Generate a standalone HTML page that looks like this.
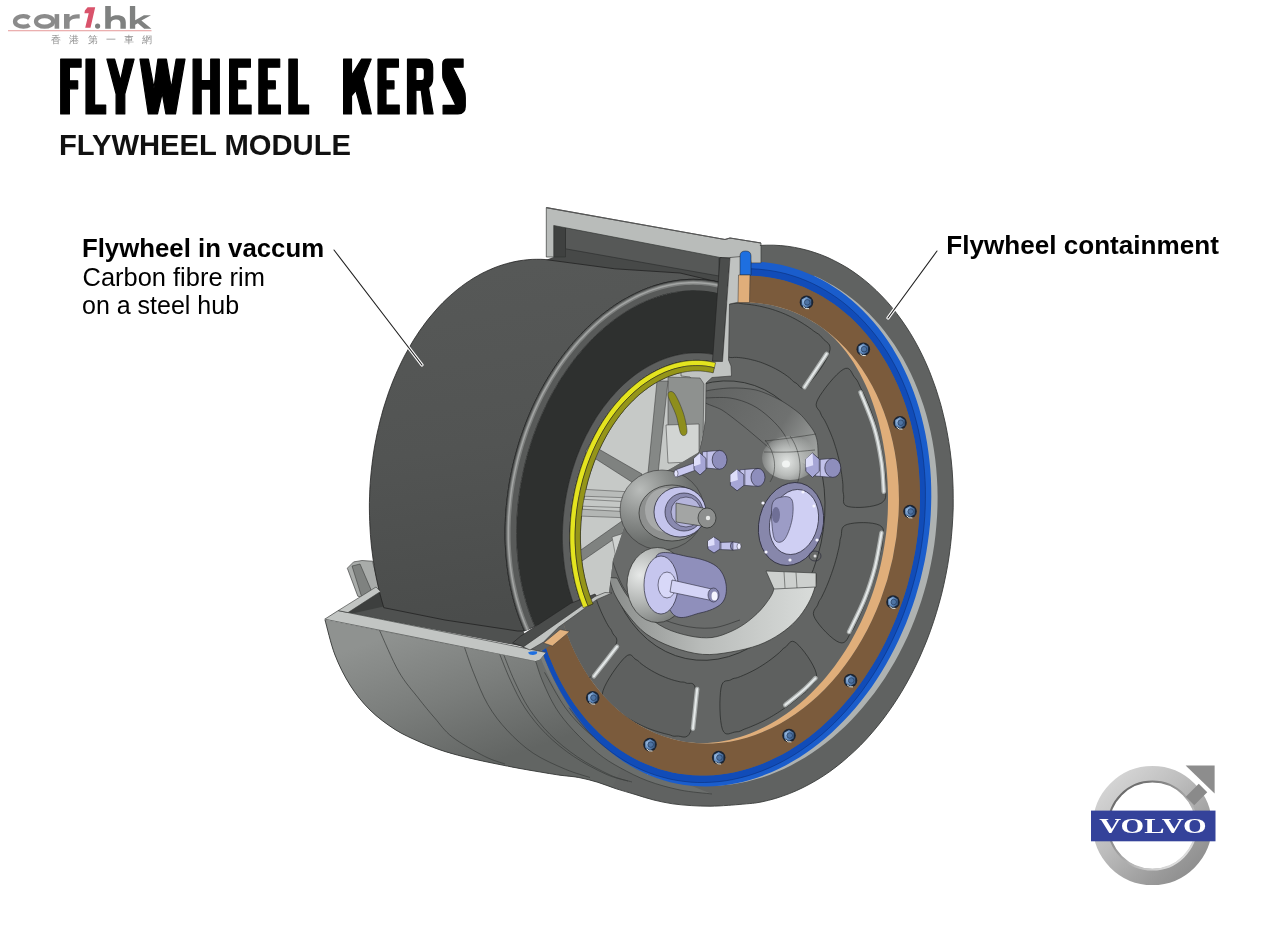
<!DOCTYPE html>
<html><head><meta charset="utf-8">
<style>
html,body{margin:0;padding:0;background:#fff;width:1280px;height:928px;overflow:hidden}
svg{position:absolute;left:0;top:0;display:block}
text{font-family:"Liberation Sans",sans-serif}
svg{will-change:transform}
</style></head><body>
<svg width="1280" height="928" viewBox="0 0 1280 928">
<defs>
<linearGradient id="ringG" gradientUnits="userSpaceOnUse" x1="1100" y1="770" x2="1205" y2="885">
<stop offset="0" stop-color="#dcdcdc"/><stop offset="0.4" stop-color="#bdbdbd"/><stop offset="0.75" stop-color="#9a9a9a"/><stop offset="1" stop-color="#858585"/>
</linearGradient>
<linearGradient id="ringIn" gradientUnits="userSpaceOnUse" x1="1115" y1="785" x2="1190" y2="866">
<stop offset="0" stop-color="#5e5e5e"/><stop offset="0.45" stop-color="#9c9c9c"/><stop offset="1" stop-color="#ececec"/>
</linearGradient>
</defs>
<rect width="1280" height="928" fill="#fff"/>

<!-- car1.hk logo -->
<g id="logo">
<path d="M29.4,17.9 A8.2,5.3 0 1 0 29.4,24.9" fill="none" stroke="#8b8b8b" stroke-width="4.3"/>
<ellipse cx="44.6" cy="21.4" rx="8.6" ry="5.3" fill="none" stroke="#8b8b8b" stroke-width="4.2"/>
<rect x="54.6" y="14.1" width="4.6" height="14.6" fill="#8b8b8b"/>
<path d="M64,28.7V14.1H69.6V17.2C71.5,14.8 74.5,14 79.7,14.2V18.6C73.5,18.4 69.6,19.6 69.6,23V28.7Z" fill="#8b8b8b"/>
<path d="M84.9,10.6L87.6,7.2H95.2L90.5,27.8H85.2L88.7,13.2H84.4Z" fill="#d9536b"/>
<circle cx="97.6" cy="26.1" r="2.6" fill="#7d7f7e"/>
<path d="M105.2,5.9H110.8V17.2C112.5,15.8 114.5,15.2 117,15.2C122.8,15.2 125.8,17.6 125.8,22.5V28.7H120.4V23C120.4,20.6 119,19.4 116.6,19.4C113.2,19.4 110.8,20.8 110.8,23.5V28.7H105.2Z" fill="#7f8180"/>
<path d="M129.9,5.9H135.2V20.3L143.9,15.2H151L141.4,20.6L151.4,28.7H144.2L137.8,23.2L135.2,24.7V28.7H129.9Z" fill="#7f8180"/>
<rect x="8" y="30" width="143.5" height="1.3" fill="#ebb0b0"/>
<g font-size="9.6" fill="#8f8f8f" font-family="Liberation Sans, sans-serif">
<text x="51.2" y="43">香</text><text x="69.4" y="43">港</text><text x="88" y="43">第</text><text x="105.8" y="43">一</text><text x="123.8" y="43">車</text><text x="141.9" y="43">網</text>
</g>
</g>

<!-- title -->
<g fill="#000" stroke="#000" stroke-width="1.2" stroke-linejoin="round">
<path d="M60.7,59.1H81.1V67.2H69.4V80.8H77.7V88.8H69.4V113.9H60.7Z"/>
<path d="M86,59.1H94.6V105H105.7V113.9H86Z"/>
<path d="M106.9,59.1H114.6L120.6,80.5L125.2,59.1H134.1L124.8,94V113.9H116.1V94Z"/>
<path d="M140,59.1H148.4L154,88L157.9,59.1H166.4L171.3,88L176.2,59.1H185L175.5,113.9H165.9L162.2,93L157.5,113.9H148.3Z"/>
<path d="M193.1,59.1H201.2V80.5H210.7V59.1H219.3V113.9H210.7V89.1H201.2V113.9H193.1Z"/>
<path d="M229.6,59.1H250.4V67.2H237.5V80.8H246V88.8H237.5V105H251.1V113.9H229.6Z"/>
<path d="M258.9,59.1H279.7V67.2H267.2V80.8H275.3V88.8H267.2V105H280.4V113.9H258.9Z"/>
<path d="M288.9,59.1H297.3V105H308.6V113.9H288.9Z"/>
<path d="M343.6,59.1H351.5V75.5L361.6,59.1H371.2L363.3,79.1L371.3,113.9H362.2L355.9,90.5L351.5,96V113.9H343.6Z"/>
<path d="M378,59.1H398.4V67.2H386V80.8H394V88.8H386V105H399.2V113.9H378Z"/>
<path d="M407.5,59.1H426.5C431,59.1 432.7,63 432.7,68V78C432.7,83 431,86 428.5,87.5L433.1,113.9H424.3L421.2,90.2H415.9V113.9H407.5Z M415.9,67.4V80.6H421.5C423.6,80.6 424.4,79.5 424.4,77.5V70.5C424.4,68.5 423.6,67.4 421.5,67.4Z" fill-rule="evenodd"/>
<path d="M463.1,59.1V67.2H452.6L463.8,89.5C465.3,92.5 465.3,94 465.3,98V106C465.3,111 462.5,113.9 458,113.9H443.1V105.4H455.9L443.6,80C442.7,78 442.7,76.5 442.7,74V64C442.7,61 444.5,59.1 447.5,59.1Z"/>
</g>
<text x="59" y="155.3" font-size="29.3" font-weight="bold" fill="#111" textLength="292" lengthAdjust="spacingAndGlyphs">FLYWHEEL MODULE</text>

<!-- labels -->
<text x="81.9" y="256.6" font-size="25.5" font-weight="bold" fill="#000" textLength="242.2" lengthAdjust="spacingAndGlyphs">Flywheel in vaccum</text>
<text x="82.6" y="285.7" font-size="25" fill="#000" textLength="182.3" lengthAdjust="spacingAndGlyphs">Carbon fibre rim</text>
<text x="82" y="314.4" font-size="25" fill="#000">on a steel hub</text>
<text x="946.2" y="254" font-size="25.5" font-weight="bold" fill="#000" textLength="272.7" lengthAdjust="spacingAndGlyphs">Flywheel containment</text>

<!-- MACHINE -->
<g id="machine">
<defs>
<linearGradient id="shellG" gradientUnits="userSpaceOnUse" x1="420" y1="625" x2="470" y2="770">
<stop offset="0" stop-color="#8f9290"/><stop offset="0.5" stop-color="#7a7d7b"/><stop offset="1" stop-color="#626563"/></linearGradient>
<linearGradient id="rotorG" gradientUnits="userSpaceOnUse" x1="420" y1="280" x2="470" y2="620">
<stop offset="0" stop-color="#565857"/><stop offset="0.5" stop-color="#525453"/><stop offset="1" stop-color="#4a4c4b"/></linearGradient>
<linearGradient id="rimG" gradientUnits="userSpaceOnUse" x1="540" y1="700" x2="760" y2="800">
<stop offset="0" stop-color="#737674"/><stop offset="1" stop-color="#5f6160"/></linearGradient>
<radialGradient id="hubLow" gradientUnits="userSpaceOnUse" cx="720" cy="640" r="130">
<stop offset="0" stop-color="#d4d7d5"/><stop offset="0.6" stop-color="#b5b8b6"/><stop offset="1" stop-color="#8a8d8b"/></radialGradient>
<radialGradient id="hubTop" gradientUnits="userSpaceOnUse" cx="760" cy="470" r="90">
<stop offset="0" stop-color="#8c8f8d"/><stop offset="1" stop-color="#5f6160"/></radialGradient>
<linearGradient id="lav" x1="0" y1="0" x2="1" y2="1"><stop offset="0" stop-color="#e6e6fa"/><stop offset="1" stop-color="#9c9cc8"/></linearGradient>
<radialGradient id="boltG" cx="0.3" cy="0.4" r="0.75"><stop offset="0" stop-color="#a9c9ec"/><stop offset="0.55" stop-color="#5f88bb"/><stop offset="1" stop-color="#34547e"/></radialGradient>

<clipPath id="innerClip"><ellipse cx="725.5" cy="523" rx="170.9" ry="222.5" transform="rotate(12 725.5 523)"/></clipPath>
<clipPath id="cutClip"><path d="M290,150 L770,150 L766,236 L762,263.5 L750.5,263.5 L741,256.5 L739.5,302 L729.5,304 L728.5,360 L731,376 L706,378 L705.5,420 L699,452 L672,468 L650,480 L633,500 L623,530 L613,560 L609,593 L546,652.5 L540,660 L535,661.5 L325,620.5 L290,620Z"/></clipPath>
</defs>
<path d="M759.9,245.4 L766.8,245.2 L773.8,245.2 L780.8,245.6 L787.7,246.3 L794.5,247.4 L801.3,248.8 L808.1,250.5 L814.8,252.6 L821.4,254.9 L827.9,257.6 L834.3,260.7 L840.6,264 L846.9,267.6 L853,271.6 L858.9,275.8 L864.8,280.4 L870.5,285.2 L876.1,290.4 L881.5,295.8 L886.8,301.4 L891.9,307.4 L896.8,313.6 L901.6,320.1 L906.2,326.8 L910.6,333.7 L914.8,340.9 L918.8,348.3 L922.6,355.9 L926.2,363.7 L929.6,371.7 L932.7,379.9 L935.7,388.2 L938.4,396.7 L941,405.4 L943.2,414.2 L945.3,423.1 L947.1,432.2 L948.7,441.4 L950.1,450.7 L951.2,460 L952.1,469.5 L952.7,479 L953.1,488.5 L953.2,498.2 L953.2,507.8 L952.8,517.5 L952.2,527.1 L951.4,536.8 L950.4,546.4 L949.1,556.1 L947.6,565.7 L945.8,575.2 L943.8,584.7 L941.6,594.1 L939.1,603.4 L936.4,612.7 L933.5,621.8 L930.4,630.8 L927.1,639.7 L923.5,648.4 L919.8,657 L915.8,665.5 L911.7,673.8 L907.3,681.9 L902.8,689.8 L898.1,697.5 L893.2,705 L888.1,712.3 L882.9,719.4 L877.5,726.2 L872,732.8 L866.3,739.2 L860.5,745.3 L854.5,751.1 L848.4,756.6 L842.3,761.9 L836,766.9 L829.6,771.7 L823.1,776.1 L816.5,780.2 L809.8,784 L803.1,787.5 L796.3,790.7 L789.4,793.6 L782.5,796.1 L775.6,798.4 L768.6,800.3 L761.7,801.9 L754.7,803.1 L754.7,803.1 C750.3,803.5 736.2,804.8 728.8,805.3 C721.3,805.8 716.2,806.2 710,806.2 C703.8,806.2 697.5,806 691.2,805.6 C685,805.2 678.8,804.7 672.5,803.8 C666.2,802.8 660,801.6 653.8,800 C647.5,798.4 641.2,796.3 635,794.4 C628.8,792.5 622.5,790.8 616.2,788.8 C610,786.7 603.8,784.1 597.5,782.2 C591.2,780.3 585,778.7 578.8,777.5 C572.5,776.3 565.6,776 560,775.2 C554.4,774.4 551.7,773.9 545,772.8 C538.3,771.7 528.3,770 520,768.5 C511.7,767 503.3,765.3 495,763.6 C486.7,761.9 478.3,760.2 470,758.2 C461.7,756.2 453.3,754.2 445,751.5 C436.7,748.8 428.3,745.7 420,742 C411.7,738.3 403.3,734.8 395,729.5 C386.7,724.2 377.5,717.4 370,710 C362.5,702.6 355.8,694.2 350,685 C344.2,675.8 339.2,665.8 335,655 C330.8,644.2 326.7,625.8 325,620 L535.5,661.5 L522,648 L600,588 L700,450 L741,256Z" fill="#606261" />
<path d="M535.5,661.5 L541.1,649.8 L545.3,660.7 L549.8,671.4 L554.8,681.7 L560.1,691.7 L565.8,701.3 L571.9,710.6 L578.4,719.4 L585.2,727.9 L592.4,735.9 L599.9,743.4 L607.8,750.4 L616,756.8 L624.5,762.7 L612,787.2 L616.2,788.8 C613.1,787.7 603.8,784.1 597.5,782.2 C591.2,780.3 585,778.7 578.8,777.5 C572.5,776.3 565.6,776 560,775.2 C554.4,774.4 551.7,773.9 545,772.8 C538.3,771.7 528.3,770 520,768.5 C511.7,767 503.3,765.3 495,763.6 C486.7,761.9 478.3,760.2 470,758.2 C461.7,756.2 453.3,754.2 445,751.5 C436.7,748.8 428.3,745.7 420,742 C411.7,738.3 403.3,734.8 395,729.5 C386.7,724.2 377.5,717.4 370,710 C362.5,702.6 355.8,694.2 350,685 C344.2,675.8 339.2,665.8 335,655 C330.8,644.2 326.7,625.8 325,620Z" fill="url(#shellG)" />
<path d="M535.6,661 C536.8,664.5 539.5,674.2 542.9,682 C546.3,689.8 550.7,699.9 555.8,708 C560.9,716.1 566.6,723 573.6,730.5 C580.6,738 590.1,747 597.8,753.2 C605.5,759.4 611.6,763.1 620,767.7 C628.4,772.3 638,777.3 648,781 C658,784.7 669.3,787.8 680,790 C690.7,792.2 706.7,793.3 712,794 L677.9292026158525,780.5785817726317 L668.3204422269619,778.6739189517389 L658.8471865133367,776.1633575770495 L649.5318852890222,773.0528472014643 L640.3966140459695,769.3497591428942 L631.4630216393197,765.062869015639 L622.7522789837346,760.2023359338511 L614.2850288823564,754.779678436367 L606.0813371072909,748.8077471899617 L598.1606448475442,742.3006945357121 L590.5417226371034,735.2739409506419 L583.2426258723408,727.7441385041234 L576.2806520241597,719.7291313956408 L569.6722996462786,711.2479136674323 L563.4332292767967,702.320584192222 L557.5782263256978,692.9682990427158 L552.1211660362413,683.2132213557326 L547.0749806032751,673.0784688097862 L542.4516285263933,662.588058840585 L538.2620662705672,651.7668517242772Z" fill="#6b6e6c" />
<path d="M379.4,630 C382.6,637 392.3,660.4 398.8,671.7 C405.3,683 412.2,690.2 418.2,697.9 C424.2,705.6 429,711.5 434.7,718 C440.4,724.5 444,730.6 452.3,737 C460.6,743.4 475.9,751.9 484.7,756.4 C493.5,760.9 501.6,762.7 505,764" fill="none" stroke="#3a3c3b" stroke-width="0.7" />
<path d="M464.5,647.3 C466,651.5 469.5,662.7 473.4,672.3 C477.3,681.9 482.2,695 487.9,704.7 C493.5,714.4 499.8,722.4 507.3,730.5 C514.9,738.6 523.5,746.7 533.2,753.2 C542.9,759.7 556,765.2 565.5,769.3 C575,773.3 585.9,776.1 590,777.5" fill="none" stroke="#3a3c3b" stroke-width="0.7" />
<path d="M499.2,652.9 C501.1,657.5 506.2,671.2 510.5,680.4 C514.8,689.6 519.1,699.1 525,708 C530.9,716.9 537.9,725.7 546,733.8 C554.1,741.9 563.6,749.7 573.6,756.4 C583.6,763.1 596.9,770.1 606,774.2 C615.1,778.3 624.3,779.9 628,781" fill="none" stroke="#3a3c3b" stroke-width="0.7" />
<path d="M503.3,653.7 C505.2,658.2 510.2,671.9 514.5,681 C518.8,690.1 523.1,699.7 529,708.6 C534.9,717.5 541.9,726.3 550,734.4 C558.1,742.5 567.6,750.2 577.6,757 C587.6,763.8 600.9,770.8 610,775 C619.1,779.2 628.3,780.8 632,782" fill="none" stroke="#3a3c3b" stroke-width="0.7" />
<path d="M535.6,661 C536.8,664.5 539.5,674.2 542.9,682 C546.3,689.8 550.7,699.9 555.8,708 C560.9,716.1 566.6,723 573.6,730.5 C580.6,738 590.1,747 597.8,753.2 C605.5,759.4 611.6,763.1 620,767.7 C628.4,772.3 638,777.3 648,781 C658,784.7 669.3,787.8 680,790 C690.7,792.2 706.7,793.3 712,794" fill="none" stroke="#3a3c3b" stroke-width="0.7" />
<path d="M544.5,672.3 C548,678.2 558,697.8 565.5,708 C573,718.2 580.7,726.3 589.8,733.8 C598.9,741.3 609.6,747.5 620,753.2 C630.4,758.9 640.3,763.7 652,768 C663.7,772.3 677,776.3 690,779 C703,781.7 723.3,783.2 730,784" fill="none" stroke="#3a3c3b" stroke-width="0.7" />
<path d="M814.1,275.7 L820.7,278.8 L827.2,282.2 L833.6,285.8 L839.9,289.8 L846,294 L852,298.5 L857.9,303.3 L863.6,308.4 L869.2,313.8 L874.6,319.4 L879.8,325.3 L884.8,331.5 L889.6,337.9 L894.3,344.5 L898.7,351.4 L903,358.6 L907,365.9 L910.8,373.5 L914.3,381.3 L917.6,389.3 L920.7,397.5 L923.6,405.8 L926.2,414.3 L928.5,423 L930.6,431.8 L932.4,440.8 L933.9,449.8 L935.2,459 L936.2,468.3 L936.9,477.6 L937.4,487.1 L937.6,496.6 L937.5,506.1 L937.1,515.7 L936.4,525.3 L935.5,534.8 L934.3,544.4 L932.8,554 L931,563.5 L929,573 L926.7,582.4 L924.1,591.7 L921.3,600.9 L918.2,610.1 L914.9,619.1 L911.3,628 L907.5,636.7 L903.4,645.3 L899.1,653.7 L894.6,662 L889.8,670 L884.9,677.9 L879.7,685.5 L874.4,692.9 L868.8,700.1 L863.1,707.1 L857.2,713.8 L851.2,720.2 L845,726.4 L838.6,732.3 L832.1,737.9 L825.5,743.2 L818.8,748.3 L812,753 L805.1,757.4 L798,761.5 L790.9,765.4 L783.8,768.9 L776.6,772 L769.3,774.9 L762,777.4 L754.6,779.6 L747.3,781.5 L739.9,783 L732.5,784.2 L725.2,785.1 L717.8,785.7 L710.5,786 L703.2,785.9 L695.9,785.5 L688.7,784.8 L681.6,783.7 L674.5,782.4 L667.5,780.8 L660.5,778.8 L653.7,776.6 L646.9,774.2 L647.1,773.2 L653.9,775.7 L660.8,777.8 L667.7,779.6 L674.8,781 L681.8,782.2 L689,783 L696.2,783.5 L703.4,783.7 L710.6,783.5 L717.9,783 L725.2,782.2 L732.5,781 L739.7,779.6 L747,777.8 L754.2,775.6 L761.4,773.2 L768.5,770.5 L775.6,767.4 L782.6,764 L789.6,760.3 L796.5,756.4 L803.2,752.1 L809.9,747.5 L816.5,742.7 L823,737.6 L829.3,732.2 L835.5,726.5 L841.6,720.6 L847.5,714.5 L853.3,708.1 L858.9,701.4 L864.3,694.6 L869.6,687.5 L874.7,680.2 L879.6,672.7 L884.3,665.1 L888.8,657.2 L893.1,649.2 L897.2,641 L901,632.7 L904.7,624.3 L908.1,615.7 L911.3,607 L914.3,598.1 L917,589.2 L919.5,580.2 L921.7,571.2 L923.7,562.1 L925.4,552.9 L926.9,543.7 L928.1,534.4 L929.1,525.2 L929.8,515.9 L930.3,506.7 L930.5,497.5 L930.4,488.3 L930.1,479.1 L929.5,470 L928.7,461 L927.6,452 L926.3,443.2 L924.7,434.4 L922.8,425.8 L920.8,417.2 L918.4,408.9 L915.8,400.6 L913,392.5 L909.9,384.6 L906.7,376.8 L903.1,369.3 L899.4,361.9 L895.4,354.7 L891.2,347.8 L886.9,341 L882.3,334.5 L877.5,328.2 L872.5,322.2 L867.3,316.4 L862,310.9 L856.5,305.7 L850.8,300.7 L845,296 L839,291.6 L832.8,287.5 L826.6,283.7 L820.2,280.2 L813.7,276.9Z" fill="#aeb2b1" />
<path d="M745.1,261.4 L752.3,261.4 L759.5,261.8 L766.7,262.5 L773.7,263.5 L780.8,264.8 L787.7,266.5 L794.6,268.5 L801.4,270.8 L808.1,273.4 L814.7,276.3 L821.2,279.6 L827.6,283.1 L833.8,286.9 L839.9,291.1 L845.9,295.5 L851.7,300.2 L857.3,305.2 L862.8,310.4 L868.1,315.9 L873.3,321.7 L878.3,327.7 L883,334 L887.6,340.5 L892,347.2 L896.1,354.2 L900.1,361.3 L903.8,368.7 L907.3,376.2 L910.6,384 L913.7,391.9 L916.5,400 L919.1,408.2 L921.4,416.5 L923.5,425 L925.4,433.7 L927,442.4 L928.3,451.2 L929.4,460.2 L930.3,469.2 L930.9,478.2 L931.2,487.3 L931.3,496.5 L931.1,505.7 L930.7,514.9 L930,524.2 L929,533.4 L927.8,542.6 L926.4,551.8 L924.7,561 L922.7,570.1 L920.6,579.1 L918.1,588.1 L915.5,597 L912.6,605.8 L909.4,614.5 L906.1,623.2 L902.5,631.6 L898.7,640 L894.7,648.2 L890.5,656.3 L886.1,664.2 L881.5,671.9 L876.7,679.5 L871.7,686.9 L866.5,694 L861.1,701 L855.6,707.7 L849.9,714.3 L844,720.6 L838,726.6 L831.9,732.4 L825.6,738 L819.2,743.2 L812.7,748.2 L806,753 L799.3,757.4 L792.4,761.6 L785.5,765.4 L778.4,769 L771.4,772.2 L764.2,775.1 L757,777.7 L749.8,780 L742.5,781.9 L735.2,783.5 L727.9,784.8 L720.5,785.7 L713.2,786.2 L705.9,786.4 L698.7,786.3 L691.5,785.8 L684.3,784.9 L677.2,783.7 L670.2,782.2 L663.3,780.3 L656.5,778 L649.7,775.4 L643.1,772.5 L636.6,769.3 L630.3,765.7 L624.1,761.9 L618,757.7 L612.1,753.3 L606.4,748.6 L600.8,743.6 L595.4,738.3 L590.2,732.8 L585.1,727.1 L580.3,721.1 L575.6,715 L571.1,708.6 L566.8,702 L562.7,695.2 L558.7,688.3 L555,681.2 L551.5,673.9 L548.1,666.5 L545,658.9 L542,651.1 L546.2,648.2 L548.9,655.9 L552,663.3 L555.2,670.7 L558.6,677.8 L562.3,684.8 L566.2,691.5 L570.2,698.1 L574.5,704.5 L579,710.6 L583.7,716.5 L588.5,722.2 L593.6,727.6 L598.8,732.8 L604.2,737.7 L609.7,742.3 L615.4,746.7 L621.2,750.7 L627.2,754.5 L633.3,758 L639.6,761.2 L645.9,764 L652.4,766.6 L658.9,768.9 L665.6,770.8 L672.3,772.4 L679.1,773.7 L685.9,774.6 L692.8,775.3 L699.8,775.6 L706.8,775.5 L713.7,775.2 L720.7,774.5 L727.8,773.5 L734.7,772.2 L741.7,770.5 L748.7,768.6 L755.6,766.3 L762.5,763.7 L769.3,760.8 L776,757.6 L782.7,754.2 L789.3,750.4 L795.8,746.3 L802.2,742 L808.5,737.4 L814.7,732.6 L820.7,727.4 L826.6,722.1 L832.4,716.5 L838.1,710.7 L843.6,704.6 L849,698.3 L854.2,691.9 L859.2,685.2 L864.1,678.3 L868.7,671.3 L873.3,664.1 L877.6,656.7 L881.7,649.2 L885.7,641.5 L889.4,633.7 L892.9,625.8 L896.3,617.7 L899.4,609.6 L902.4,601.3 L905.1,593 L907.6,584.5 L909.8,576 L911.9,567.5 L913.7,558.9 L915.4,550.2 L916.7,541.5 L917.9,532.8 L918.7,524.1 L919.4,515.4 L919.8,506.7 L920,498 L919.9,489.3 L919.6,480.7 L919,472.1 L918.2,463.6 L917.2,455.2 L915.9,446.8 L914.4,438.6 L912.6,430.4 L910.7,422.4 L908.4,414.5 L906,406.7 L903.3,399.1 L900.4,391.6 L897.3,384.3 L894,377.2 L890.5,370.2 L886.8,363.5 L882.8,356.9 L878.7,350.5 L874.4,344.4 L869.9,338.5 L865.2,332.8 L860.3,327.3 L855.3,322.1 L850.1,317.1 L844.7,312.4 L839.3,308 L833.6,303.8 L827.8,299.9 L821.9,296.3 L815.9,292.9 L809.8,289.9 L803.6,287.1 L797.2,284.7 L790.8,282.5 L784.3,280.6 L777.7,279 L771.1,277.8 L764.4,276.8 L757.6,276.1 L750.9,275.8 L744,275.7Z" fill="#1a5dcc" />
<path d="M744.6,268.8 L751.6,268.8 L758.5,269.2 L765.5,269.9 L772.4,270.9 L779.2,272.2 L786,273.8 L792.6,275.7 L799.2,278 L805.8,280.5 L812.2,283.4 L818.5,286.5 L824.7,289.9 L830.7,293.7 L836.7,297.7 L842.4,302 L848.1,306.5 L853.6,311.4 L858.9,316.5 L864.1,321.8 L869.1,327.4 L873.9,333.3 L878.5,339.4 L883,345.7 L887.2,352.2 L891.3,359 L895.1,365.9 L898.8,373.1 L902.2,380.4 L905.4,387.9 L908.3,395.6 L911.1,403.5 L913.6,411.4 L915.9,419.6 L917.9,427.8 L919.7,436.2 L921.2,444.7 L922.6,453.3 L923.6,461.9 L924.5,470.7 L925,479.5 L925.3,488.4 L925.4,497.3 L925.3,506.2 L924.8,515.2 L924.2,524.1 L923.2,533.1 L922.1,542.1 L920.7,551 L919,559.9 L917.1,568.7 L915,577.5 L912.7,586.3 L910.1,594.9 L907.3,603.5 L904.3,612 L901.1,620.4 L897.6,628.6 L894,636.8 L890.1,644.8 L886.1,652.7 L881.8,660.4 L877.4,668 L872.7,675.4 L867.9,682.7 L862.9,689.7 L857.8,696.6 L852.4,703.2 L846.9,709.7 L841.2,715.9 L835.4,721.9 L829.5,727.6 L823.4,733.1 L817.1,738.4 L810.8,743.4 L804.3,748.1 L797.7,752.5 L791,756.7 L784.3,760.5 L777.4,764.1 L770.5,767.4 L763.5,770.4 L756.4,773 L749.3,775.3 L742.2,777.4 L735,779 L727.8,780.4 L720.6,781.4 L713.4,782.1 L706.2,782.5 L699.1,782.5 L691.9,782.2 L684.9,781.5 L677.8,780.6 L670.8,779.2 L663.9,777.6 L657.1,775.6 L650.4,773.3 L643.7,770.7 L637.2,767.7 L630.8,764.4 L624.5,760.9 L618.4,757 L612.4,752.8 L606.5,748.3 L600.8,743.6 L595.4,738.3 L590.2,732.8 L585.1,727.1 L580.3,721.1 L575.6,715 L571.1,708.6 L566.8,702 L562.7,695.2 L558.7,688.3 L555,681.2 L551.5,673.9 L548.1,666.5 L545,658.9 L542,651.1 L546.2,648.2 L548.9,655.9 L552,663.3 L555.2,670.7 L558.6,677.8 L562.3,684.8 L566.2,691.5 L570.2,698.1 L574.5,704.5 L579,710.6 L583.7,716.5 L588.5,722.2 L593.6,727.6 L598.8,732.8 L604.2,737.7 L609.7,742.3 L615.4,746.7 L621.2,750.7 L627.2,754.5 L633.3,758 L639.6,761.2 L645.9,764 L652.4,766.6 L658.9,768.9 L665.6,770.8 L672.3,772.4 L679.1,773.7 L685.9,774.6 L692.8,775.3 L699.8,775.6 L706.8,775.5 L713.7,775.2 L720.7,774.5 L727.8,773.5 L734.7,772.2 L741.7,770.5 L748.7,768.6 L755.6,766.3 L762.5,763.7 L769.3,760.8 L776,757.6 L782.7,754.2 L789.3,750.4 L795.8,746.3 L802.2,742 L808.5,737.4 L814.7,732.6 L820.7,727.4 L826.6,722.1 L832.4,716.5 L838.1,710.7 L843.6,704.6 L849,698.3 L854.2,691.9 L859.2,685.2 L864.1,678.3 L868.7,671.3 L873.3,664.1 L877.6,656.7 L881.7,649.2 L885.7,641.5 L889.4,633.7 L892.9,625.8 L896.3,617.7 L899.4,609.6 L902.4,601.3 L905.1,593 L907.6,584.5 L909.8,576 L911.9,567.5 L913.7,558.9 L915.4,550.2 L916.7,541.5 L917.9,532.8 L918.7,524.1 L919.4,515.4 L919.8,506.7 L920,498 L919.9,489.3 L919.6,480.7 L919,472.1 L918.2,463.6 L917.2,455.2 L915.9,446.8 L914.4,438.6 L912.6,430.4 L910.7,422.4 L908.4,414.5 L906,406.7 L903.3,399.1 L900.4,391.6 L897.3,384.3 L894,377.2 L890.5,370.2 L886.8,363.5 L882.8,356.9 L878.7,350.5 L874.4,344.4 L869.9,338.5 L865.2,332.8 L860.3,327.3 L855.3,322.1 L850.1,317.1 L844.7,312.4 L839.3,308 L833.6,303.8 L827.8,299.9 L821.9,296.3 L815.9,292.9 L809.8,289.9 L803.6,287.1 L797.2,284.7 L790.8,282.5 L784.3,280.6 L777.7,279 L771.1,277.8 L764.4,276.8 L757.6,276.1 L750.9,275.8 L744,275.7Z" fill="#114cb8" />
<path d="M744.6,268.8 L751.6,268.8 L758.6,269.2 L765.5,269.9 L772.4,270.9 L779.3,272.2 L786.1,273.8 L792.8,275.8 L799.4,278 L805.9,280.6 L812.3,283.4 L818.6,286.6 L824.8,290 L830.9,293.8 L836.9,297.8 L842.7,302.1 L848.3,306.7 L853.8,311.6 L859.2,316.7 L864.3,322.1 L869.3,327.7 L874.2,333.6 L878.8,339.7 L883.2,346.1 L887.5,352.6 L891.5,359.4 L895.4,366.4 L899,373.6 L902.4,380.9 L905.6,388.5 L908.5,396.2 L911.3,404.1 L913.8,412.1 L916,420.3 L918.1,428.6 L919.8,437 L921.4,445.5 L922.7,454.1 L923.7,462.8 L924.5,471.6 L925.1,480.4 L925.4,489.3 L925.4,498.2 L925.2,507.2 L924.8,516.2 L924.1,525.2 L923.1,534.2 L921.9,543.1 L920.5,552.1 L918.8,561 L916.9,569.9 L914.7,578.7 L912.3,587.4 L909.7,596.1 L906.9,604.7 L903.9,613.2 L900.6,621.6 L897.1,629.8 L893.4,638 L889.5,646 L885.4,653.9 L881.1,661.6 L876.7,669.2 L872,676.6 L867.1,683.8 L862.1,690.9 L856.9,697.7 L851.5,704.3 L845.9,710.8 L840.2,716.9 L834.4,722.9 L828.4,728.6 L822.2,734.1 L815.9,739.3 L809.5,744.3 L803,749 L796.4,753.4 L789.7,757.5 L782.9,761.3 L776,764.8 L769,768 L762,770.9 L754.9,773.5 L747.8,775.8 L740.6,777.7 L733.4,779.4 L726.2,780.7 L719,781.6 L711.8,782.2 L704.6,782.5 L697.4,782.5 L690.3,782.1 L683.2,781.3 L676.2,780.3 L669.2,778.9 L662.3,777.1 L655.4,775.1 L648.7,772.7 L642.1,770 L635.6,766.9 L629.2,763.6 L622.9,759.9 L616.8,755.9 L610.8,751.7 L605,747.1 L599.3,742.3 L593.8,737.1 L588.5,731.7 L583.3,726.1 L578.4,720.2 L573.6,714 L569.1,707.6" fill="none" stroke="#0a2f7a" stroke-width="0.6" />
<path d="M744,275.7 L750.9,275.8 L757.6,276.1 L764.4,276.8 L771.1,277.8 L777.7,279 L784.3,280.6 L790.8,282.5 L797.2,284.7 L803.6,287.1 L809.8,289.9 L815.9,292.9 L821.9,296.3 L827.8,299.9 L833.6,303.8 L839.3,308 L844.7,312.4 L850.1,317.1 L855.3,322.1 L860.3,327.3 L865.2,332.8 L869.9,338.5 L874.4,344.4 L878.7,350.5 L882.8,356.9 L886.8,363.5 L890.5,370.2 L894,377.2 L897.3,384.3 L900.4,391.6 L903.3,399.1 L906,406.7 L908.4,414.5 L910.7,422.4 L912.6,430.4 L914.4,438.6 L915.9,446.8 L917.2,455.2 L918.2,463.6 L919,472.1 L919.6,480.7 L919.9,489.3 L920,498 L919.8,506.7 L919.4,515.4 L918.7,524.1 L917.9,532.8 L916.7,541.5 L915.4,550.2 L913.7,558.9 L911.9,567.5 L909.8,576 L907.6,584.5 L905.1,593 L902.4,601.3 L899.4,609.6 L896.3,617.7 L892.9,625.8 L889.4,633.7 L885.7,641.5 L881.7,649.2 L877.6,656.7 L873.3,664.1 L868.7,671.3 L864.1,678.3 L859.2,685.2 L854.2,691.9 L849,698.3 L843.6,704.6 L838.1,710.7 L832.4,716.5 L826.6,722.1 L820.7,727.4 L814.7,732.6 L808.5,737.4 L802.2,742 L795.8,746.3 L789.3,750.4 L782.7,754.2 L776,757.6 L769.3,760.8 L762.5,763.7 L755.6,766.3 L748.7,768.6 L741.7,770.5 L734.7,772.2 L727.8,773.5 L720.7,774.5 L713.7,775.2 L706.8,775.5 L699.8,775.6 L692.8,775.3 L685.9,774.6 L679.1,773.7 L672.3,772.4 L665.6,770.8 L658.9,768.9 L652.4,766.6 L645.9,764 L639.6,761.2 L633.3,758 L627.2,754.5 L621.2,750.7 L615.4,746.7 L609.7,742.3 L604.2,737.7 L598.8,732.8 L593.6,727.6 L588.5,722.2 L583.7,716.5 L579,710.6 L574.5,704.5 L570.2,698.1 L566.2,691.5 L562.3,684.8 L558.6,677.8 L555.2,670.7 L552,663.3 L548.9,655.9 L546.2,648.2 L567,633.7 L569.6,640.3 L572.3,646.9 L575.3,653.2 L578.5,659.4 L581.8,665.4 L585.3,671.3 L589,677 L592.8,682.4 L596.9,687.7 L601.1,692.8 L605.4,697.6 L609.9,702.3 L614.5,706.7 L619.3,710.9 L624.2,714.8 L629.2,718.6 L634.4,722 L639.6,725.3 L645,728.2 L650.5,731 L656,733.4 L661.7,735.6 L667.4,737.5 L673.2,739.2 L679.1,740.6 L685,741.7 L691,742.6 L697,743.2 L703.1,743.5 L709.1,743.5 L715.2,743.3 L721.4,742.7 L727.5,741.9 L733.6,740.9 L739.7,739.5 L745.8,737.9 L751.8,736.1 L757.9,733.9 L763.9,731.5 L769.8,728.9 L775.7,726 L781.5,722.8 L787.3,719.4 L793,715.7 L798.6,711.8 L804.1,707.7 L809.5,703.3 L814.8,698.7 L820,693.9 L825,688.9 L830,683.6 L834.8,678.2 L839.5,672.6 L844,666.8 L848.4,660.8 L852.7,654.6 L856.7,648.3 L860.7,641.8 L864.4,635.2 L868,628.4 L871.4,621.5 L874.6,614.5 L877.6,607.4 L880.5,600.1 L883.1,592.8 L885.6,585.4 L887.8,577.9 L889.9,570.3 L891.7,562.7 L893.4,555 L894.8,547.3 L896,539.5 L897,531.8 L897.8,524 L898.4,516.2 L898.8,508.4 L898.9,500.7 L898.9,492.9 L898.6,485.3 L898.1,477.6 L897.4,470 L896.4,462.5 L895.3,455.1 L893.9,447.7 L892.4,440.4 L890.6,433.3 L888.6,426.2 L886.5,419.3 L884.1,412.5 L881.5,405.8 L878.7,399.3 L875.8,393 L872.6,386.7 L869.3,380.7 L865.8,374.9 L862.1,369.2 L858.3,363.7 L854.2,358.4 L850.1,353.4 L845.7,348.5 L841.2,343.8 L836.6,339.4 L831.8,335.2 L826.9,331.3 L821.9,327.5 L816.8,324.1 L811.5,320.8 L806.1,317.8 L800.7,315.1 L795.1,312.7 L789.5,310.4 L783.7,308.5 L777.9,306.8 L772.1,305.4 L766.2,304.3 L760.2,303.4 L754.2,302.9 L748.1,302.5 L742,302.5Z" fill="#7b5b3c" />
<ellipse cx="725.5" cy="523" rx="170.9" ry="222.5" transform="rotate(12 725.5 523)" fill="#e0ae7a"/>
<path d="M558.4,487.5 L559.9,480.6 L561.6,473.8 L563.5,467 L565.5,460.3 L567.7,453.7 L570.1,447.1 L572.6,440.6 L575.2,434.2 L578,427.9 L581,421.6 L584.1,415.5 L587.3,409.5 L590.7,403.6 L594.2,397.8 L597.9,392.1 L601.6,386.6 L605.5,381.2 L609.5,375.9 L613.7,370.8 L617.9,365.8 L622.2,361 L626.7,356.4 L631.2,351.9 L635.9,347.6 L640.6,343.5 L645.4,339.5 L650.3,335.8 L655.3,332.2 L660.3,328.8 L665.4,325.6 L670.6,322.6 L675.8,319.8 L681.1,317.2 L686.4,314.8 L691.8,312.6 L697.2,310.6 L702.6,308.8 L708,307.3 L713.5,306 L718.9,304.8 L724.4,303.9 L729.9,303.2 L735.4,302.8 L740.8,302.5 L746.3,302.5 L751.7,302.7 L757.1,303.1 L762.5,303.7 L767.8,304.6 L773.1,305.6 L778.3,306.9 L783.5,308.4 L788.6,310.1 L793.7,312.1 L798.7,314.2 L803.6,316.6 L808.5,319.1 L813.2,321.9 L817.9,324.8 L822.5,328 L826.9,331.4 L831.2,335.2 L835.3,339.2 L839.2,343.5 L843,347.9 L846.6,352.5 L850.1,357.4 L853.4,362.3 L856.5,367.5 L859.5,372.8 L862.3,378.2 L865,383.7 L867.5,389.3 L869.8,395 L872,400.9 L874,406.8 L875.9,412.7 L877.7,418.8 L879.3,424.9 L880.7,431 L882,437.2 L883.2,443.5 L884.2,449.8 L885.2,456.1 L885.9,462.4 L886.6,468.8 L887.1,475.2 L887.5,481.6 L887.8,488.1 L888,494.5 L888,501 L887.9,507.5 L887.7,514 L887.3,520.6 L886.8,527.1 L886.1,533.6 L885.2,540.1 L884.2,546.6 L883.1,553.1 L881.8,559.6 L880.4,566 L878.8,572.5 L877.1,578.8 L875.2,585.2 L873.2,591.4 L871,597.7 L868.7,603.8 L866.3,609.9 L863.7,616 L861,621.9 L858.1,627.8 L855.1,633.6 L852,639.3 L848.8,644.9 L845.4,650.4 L841.9,655.8 L838.3,661.1 L834.6,666.3 L830.7,671.3 L826.7,676.2 L822.7,681 L818.5,685.6 L814.2,690.1 L809.8,694.5 L805.3,698.7 L800.7,702.7 L796.1,706.6 L791.3,710.3 L786.5,713.8 L781.6,717.1 L776.6,720.3 L771.5,723.3 L766.4,726.1 L761.3,728.6 L756,731 L750.8,733.2 L745.4,735.2 L740.1,737 L734.7,738.5 L729.3,739.9 L723.9,741 L718.4,741.9 L713,742.5 L707.5,742.9 L702.1,743.1 L696.6,743.1 L691.2,742.6 L685.9,741.9 L680.6,740.9 L675.3,739.7 L670.1,738.3 L664.9,736.7 L659.8,734.9 L654.8,732.9 L649.8,730.6 L644.9,728.2 L640.1,725.5 L635.4,722.7 L630.8,719.6 L626.2,716.4 L621.8,713 L617.5,709.3 L613.2,705.5 L609.1,701.5 L605.1,697.3 L601.2,693 L597.5,688.5 L593.8,683.8 L590.3,678.9 L587,673.9 L583.8,668.8 L580.7,663.5 L577.7,658 L574.9,652.5 L572.3,646.8 L569.8,641 L567.5,635 L565.3,629 L563.3,622.8 L561.4,616.5 L559.7,610.2 L558.2,603.8 L556.8,597.2 L555.7,590.6 L554.6,584 L553.8,577.3 L553.1,570.5 L552.6,563.7 L552.3,556.8 L552.1,549.9 L552.1,543 L552.3,536 L552.6,529.1 L553.2,522.1 L553.9,515.2 L554.7,508.2 L555.8,501.3 L557,494.4 L558.4,487.5Z" fill="#636564" />
<g clip-path="url(#innerClip)">
<path d="M732.9,303.6 C737.7,302.3 739.4,303.6 743.7,303.9 C748,304.3 750.1,304.5 754.4,305.2 C758.6,305.9 760.7,306.3 764.9,307.4 C769.1,308.4 771.2,309 775.3,310.4 C779.3,311.8 781.4,312.6 785.4,314.3 C789.3,316 791.3,317 795.2,319 C799,321.1 800.9,322.2 804.6,324.6 C808.4,327 810.2,328.3 813.7,331 C817.3,333.7 819.3,333.8 822.5,338.1 C825.6,342.4 832.5,343.1 829.3,352.6 C826.2,362.1 813.5,379.6 806.8,385.7 C800.1,391.8 799.5,384.7 796,383.1 C792.5,381.5 792.1,379.8 789.4,377.7 C786.7,375.7 785.4,374.7 782.6,372.9 C779.8,371.1 778.3,370.3 775.4,368.7 C772.5,367.2 771,366.5 768,365.2 C765,363.9 763.5,363.3 760.4,362.2 C757.3,361.2 755.8,360.7 752.6,360 C749.5,359.2 747.9,358.8 744.7,358.3 C741.5,357.8 739.9,357.6 736.6,357.4 C733.4,357.1 732.1,358.2 728.5,357.1 C724.9,355.9 720.3,361.1 718.5,351.7 C716.7,342.3 716.5,319.8 719.4,310.2 C722.2,300.6 728,304.8 732.9,303.6Z" fill="#5e605f" stroke="#2c2e2d" stroke-width="0.8"/>
<path d="M854.9,377.6 C858.4,381.3 858.5,383.7 860.7,387.9 C862.9,392.2 864,394.4 865.9,398.9 C867.9,403.3 868.9,405.6 870.6,410.2 C872.3,414.9 873.2,417.2 874.7,422 C876.2,426.8 876.9,429.3 878.1,434.2 C879.4,439.2 879.9,441.7 880.9,446.7 C881.9,451.8 882.4,454.4 883.1,459.5 C883.9,464.7 884.2,467.3 884.7,472.6 C885.2,477.8 886.3,479.7 885.6,485.8 C884.8,491.9 888.5,499 881.1,503.2 C873.6,507.4 855.9,508.4 848.3,506.6 C840.8,504.9 844.6,498.8 843.5,494.4 C842.4,489.9 843.2,488.4 842.9,484.4 C842.5,480.5 842.3,478.5 841.7,474.6 C841.1,470.7 840.8,468.8 840.1,465 C839.3,461.1 838.9,459.2 837.9,455.5 C837,451.8 836.5,450 835.3,446.3 C834.2,442.7 833.6,440.9 832.3,437.4 C830.9,434 830.2,432.2 828.7,428.9 C827.2,425.5 826.5,423.9 824.8,420.7 C823.1,417.4 821.8,417.1 820.4,412.8 C819,408.5 813.4,407.9 817.9,399.2 C822.5,390.6 835.8,373.8 843.2,369.4 C850.5,365.1 851.4,373.8 854.9,377.6Z" fill="#5e605f" stroke="#2c2e2d" stroke-width="0.8"/>
<path d="M882.1,542.4 C882.2,547.9 881,548.7 880.2,552.9 C879.3,557 878.9,559.1 877.9,563.2 C876.9,567.4 876.3,569.4 875.2,573.5 C874,577.6 873.4,579.6 872.1,583.6 C870.8,587.7 870.2,589.7 868.7,593.6 C867.3,597.6 866.5,599.6 864.9,603.4 C863.3,607.3 862.5,609.3 860.8,613.1 C859.1,616.9 858.2,618.8 856.3,622.5 C854.4,626.2 854.8,627.6 851.5,631.6 C848.1,635.7 846.8,645.1 839.5,642.5 C832.2,639.9 819.3,626.1 815,618.5 C810.6,610.8 816.6,608.5 817.9,604.3 C819.2,600 820.1,600.2 821.5,597.4 C822.9,594.6 823.6,593.1 824.9,590.3 C826.2,587.4 826.8,585.9 828,583 C829.2,580.1 829.7,578.6 830.8,575.6 C831.9,572.6 832.4,571.1 833.4,568.1 C834.4,565.1 834.9,563.5 835.7,560.5 C836.6,557.4 837,555.8 837.7,552.7 C838.5,549.6 838.8,548 839.5,544.9 C840.1,541.8 839.4,541.2 840.9,537 C842.5,532.9 839.5,526.7 847.3,524.4 C855,522 872.7,521.7 879.7,525.3 C886.7,528.9 882,536.9 882.1,542.4Z" fill="#5e605f" stroke="#2c2e2d" stroke-width="0.8"/>
<path d="M808.1,688.7 C805.1,693.2 803.8,692.8 800.8,695.4 C797.8,698 796.3,699.3 793.3,701.7 C790.2,704.1 788.7,705.3 785.5,707.5 C782.4,709.7 780.8,710.8 777.6,712.8 C774.4,714.9 772.8,715.8 769.5,717.7 C766.2,719.5 764.6,720.4 761.3,722 C758,723.6 756.3,724.4 752.9,725.8 C749.6,727.2 747.9,727.9 744.5,729.1 C741.1,730.3 740.4,731.9 736,731.9 C731.6,731.9 725.4,738 722.4,729.3 C719.4,720.5 719.3,698 721,688.1 C722.7,678.2 727.6,681.9 730.8,679.8 C734.1,677.7 734.7,678.6 737.3,677.7 C739.8,676.8 741.1,676.3 743.6,675.2 C746.1,674.1 747.4,673.6 749.9,672.3 C752.4,671.1 753.6,670.5 756.1,669.1 C758.5,667.7 759.8,667 762.2,665.4 C764.6,663.9 765.8,663.1 768.2,661.4 C770.5,659.7 771.7,658.9 774,657 C776.3,655.2 777.4,654.3 779.7,652.3 C781.9,650.4 781.9,649.1 785.2,647.3 C788.5,645.4 790.1,637.9 796.3,643.1 C802.5,648.2 813.9,664 816.2,673.1 C818.6,682.3 811.2,684.3 808.1,688.7Z" fill="#5e605f" stroke="#2c2e2d" stroke-width="0.8"/>
<path d="M676.8,736.1 C672.4,736.8 672,735.3 668.8,734.6 C665.6,733.9 664,733.5 660.9,732.6 C657.7,731.7 656.2,731.2 653.1,730.2 C650,729.1 648.5,728.5 645.4,727.2 C642.4,725.9 640.9,725.2 638,723.7 C635,722.2 633.6,721.4 630.7,719.7 C627.8,718.1 626.4,717.2 623.6,715.3 C620.8,713.5 619.4,712.5 616.7,710.4 C614,708.4 612.8,709.1 610.1,705.1 C607.3,701.2 600,700.4 603,690.8 C606,681.2 618.5,663.5 625.1,657.2 C631.7,651 632.8,658.3 636,659.6 C639.1,660.9 638.9,662.1 641,663.6 C643,665.2 644.1,665.9 646.2,667.3 C648.3,668.7 649.3,669.4 651.5,670.6 C653.7,671.9 654.8,672.5 657,673.6 C659.2,674.7 660.3,675.3 662.6,676.2 C664.9,677.2 666.1,677.7 668.4,678.5 C670.7,679.3 671.9,679.7 674.2,680.4 C676.6,681 677.8,681.3 680.2,681.9 C682.6,682.4 683.2,681.4 686.2,683 C689.3,684.6 694.6,680.2 695.5,689.9 C696.3,699.7 694.4,722.3 690.6,731.5 C686.9,740.8 681.2,735.5 676.8,736.1Z" fill="#5e605f" stroke="#2c2e2d" stroke-width="0.8"/>
<path d="M578.8,669.3 C575.4,666 575.5,664.1 573.4,660.5 C571.4,656.9 570.4,655 568.5,651.2 C566.6,647.5 565.7,645.6 564,641.6 C562.2,637.7 561.4,635.7 559.9,631.7 C558.3,627.6 557.6,625.6 556.2,621.4 C554.9,617.2 554.3,615.1 553.1,610.8 C551.9,606.5 551.4,604.4 550.4,600 C549.4,595.6 549,593.4 548.2,588.9 C547.4,584.4 546.2,583.4 546.5,577.6 C546.8,571.8 542.5,565 549.6,559.9 C556.7,554.8 574.5,551.4 582.2,552.1 C589.9,552.9 586.7,559.6 588.1,563.6 C589.5,567.5 588.8,568.7 589.4,572.1 C590,575.4 590.3,577.1 591,580.4 C591.8,583.7 592.2,585.3 593,588.6 C593.9,591.8 594.4,593.4 595.4,596.5 C596.4,599.7 597,601.2 598.1,604.3 C599.3,607.3 599.9,608.9 601.2,611.8 C602.5,614.7 603.2,616.2 604.6,619 C606.1,621.9 606.8,623.3 608.4,626 C609.9,628.7 611,628.6 612.4,632.6 C613.8,636.6 619.6,637.2 615.3,646 C611,654.8 598.1,672.2 590.8,676.8 C583.5,681.5 582.3,672.5 578.8,669.3Z" fill="#5e605f" stroke="#2c2e2d" stroke-width="0.8"/>
<path d="M804.4,387.2 C805.4,385.6 808.3,381.3 810.7,377.7 C813.1,374.1 816,369.8 818.7,365.8 C821.4,361.8 825.3,355.9 826.7,353.9" fill="none" stroke="#a9adac" stroke-width="4.5" stroke-linecap="round"/>
<path d="M804.4,387.2 C805.4,385.6 808.3,381.3 810.7,377.7 C813.1,374.1 816,369.8 818.7,365.8 C821.4,361.8 825.3,355.9 826.7,353.9" fill="none" stroke="#e4e8e8" stroke-width="2.0" stroke-linecap="round"/>
<path d="M860.5,392.3 C862.7,398.1 870.6,415.8 874.1,427.5 C877.7,439.1 879.9,451.7 881.5,462.4 C883.1,473.1 883.4,486.9 883.8,491.7" fill="none" stroke="#a9adac" stroke-width="4.5" stroke-linecap="round"/>
<path d="M860.5,392.3 C862.7,398.1 870.6,415.8 874.1,427.5 C877.7,439.1 879.9,451.7 881.5,462.4 C883.1,473.1 883.4,486.9 883.8,491.7" fill="none" stroke="#e4e8e8" stroke-width="2.0" stroke-linecap="round"/>
<path d="M881.6,532.8 C880.5,538.4 877.9,555.3 875.2,566.2 C872.4,577.1 869.2,587.5 864.8,598.4 C860.5,609.4 851.7,626.4 849,632" fill="none" stroke="#a9adac" stroke-width="4.5" stroke-linecap="round"/>
<path d="M881.6,532.8 C880.5,538.4 877.9,555.3 875.2,566.2 C872.4,577.1 869.2,587.5 864.8,598.4 C860.5,609.4 851.7,626.4 849,632" fill="none" stroke="#e4e8e8" stroke-width="2.0" stroke-linecap="round"/>
<path d="M815.5,678.2 C813.5,680.2 808.4,685.8 803.3,690.3 C798.3,694.8 788.2,702.6 785.2,705" fill="none" stroke="#a9adac" stroke-width="4.5" stroke-linecap="round"/>
<path d="M815.5,678.2 C813.5,680.2 808.4,685.8 803.3,690.3 C798.3,694.8 788.2,702.6 785.2,705" fill="none" stroke="#e4e8e8" stroke-width="2.0" stroke-linecap="round"/>
<path d="M697.2,689 C696.9,691.5 696.1,698.9 695.6,703.9 C695.1,708.8 694.5,714.6 694,718.7 C693.6,722.9 693.1,727 693,728.7" fill="none" stroke="#a9adac" stroke-width="4.5" stroke-linecap="round"/>
<path d="M697.2,689 C696.9,691.5 696.1,698.9 695.6,703.9 C695.1,708.8 694.5,714.6 694,718.7 C693.6,722.9 693.1,727 693,728.7" fill="none" stroke="#e4e8e8" stroke-width="2.0" stroke-linecap="round"/>
<path d="M617,646.6 C615.5,648.5 611.2,654.1 608.3,657.8 C605.4,661.5 602.1,665.8 599.7,668.9 C597.3,672 594.9,675.1 593.9,676.3" fill="none" stroke="#a9adac" stroke-width="4.5" stroke-linecap="round"/>
<path d="M617,646.6 C615.5,648.5 611.2,654.1 608.3,657.8 C605.4,661.5 602.1,665.8 599.7,668.9 C597.3,672 594.9,675.1 593.9,676.3" fill="none" stroke="#e4e8e8" stroke-width="2.0" stroke-linecap="round"/>
</g>
<linearGradient id="cresG" gradientUnits="userSpaceOnUse" x1="610" y1="600" x2="815" y2="600"><stop offset="0" stop-color="#8a8d8b"/><stop offset="0.45" stop-color="#b9bcba"/><stop offset="1" stop-color="#d9dcda"/></linearGradient>
<linearGradient id="torG" gradientUnits="userSpaceOnUse" x1="705" y1="400" x2="815" y2="470"><stop offset="0" stop-color="#626463"/><stop offset="0.6" stop-color="#6f7170"/><stop offset="1" stop-color="#a9acaa"/></linearGradient>
<ellipse cx="715.1" cy="520.6" rx="108.3" ry="141" transform="rotate(12 715.1 520.6)" fill="#696b6a" stroke="#2c2e2d" stroke-width="0.8"/>
<path d="M703,392 C706.5,390.1 722.9,388.3 730,388 C737.1,387.7 749.3,388.4 756,390 C762.7,391.6 774.1,396.8 780,400 C785.9,403.2 795.6,410 800,414 C804.4,418 810.7,426.5 813,430 C815.3,433.5 816.3,437.1 817,440 C817.7,442.9 818,448 818,452 C818,456 819.4,468.7 817,470 C814.6,471.3 805.5,464.3 800,462 C794.5,459.7 781.3,455.9 776,453 C770.7,450.1 764.5,443.7 760,440 C755.5,436.3 747.1,429 742,425 C736.9,421 727.1,413.1 722,410 C716.9,406.9 706.5,404.4 704,402 C701.5,399.6 699.5,393.9 703,392Z" fill="url(#torG)" stroke="#2c2e2d" stroke-width="0.6"/>
<path d="M704,398 C708.3,398 722,396.8 730,398 C738,399.2 745.3,401.7 752,405 C758.7,408.3 764.7,413.2 770,418 C775.3,422.8 780.3,428.3 784,434 C787.7,439.7 790.7,449 792,452" fill="none" stroke="#2c2e2d" stroke-width="0.6" />
<radialGradient id="hlG" gradientUnits="userSpaceOnUse" cx="787" cy="462" r="30"><stop offset="0" stop-color="#e2e5e3"/><stop offset="0.45" stop-color="#b9bcba"/><stop offset="1" stop-color="#b9bcba" stop-opacity="0"/></radialGradient>
<ellipse cx="790" cy="458" rx="28" ry="22" fill="url(#hlG)"/>
<ellipse cx="786" cy="464" rx="4" ry="3.5" fill="#f4f6f5" opacity="0.9"/>
<path d="M765,440 C775,452 778,470 770,482" fill="none" stroke="#2c2e2d" stroke-width="0.5" />
<path d="M790,436 C800,450 803,470 797,484" fill="none" stroke="#2c2e2d" stroke-width="0.5" />
<path d="M765,441 C769.2,440.5 781.5,439.2 790,438 C798.5,436.8 811.7,434.7 816,434" fill="none" stroke="#2c2e2d" stroke-width="0.5" />
<path d="M764,452 C768.3,452 781.5,452.3 790,452 C798.5,451.7 810.8,450.3 815,450" fill="none" stroke="#2c2e2d" stroke-width="0.5" />
<path d="M608.8,577.5 C609.8,580.4 611.8,588.8 615,595 C618.2,601.2 622.8,608.5 628,615 C633.2,621.5 638.7,628.4 646,633.8 C653.3,639.1 662.6,643.6 672,647 C681.4,650.4 692.7,653.6 702.5,654.4 C712.3,655.2 721.6,653.6 731,652 C740.4,650.4 750.6,648 758.8,645 C766.9,642 773.8,638.1 780,634 C786.2,629.9 791.3,625.6 796,620.6 C800.7,615.6 804.8,609.6 808,604 C811.2,598.4 813.7,592 815,587 C816.3,582 815.8,576 816,573.8 L768,573 C769,575.6 774.4,583.2 773.8,588.8 C773.1,594.2 768.1,600.7 764,606 C759.9,611.3 754.3,616.4 749,620.6 C743.7,624.8 738.2,628.2 732,631 C725.8,633.8 719,636.7 712,637.5 C705,638.3 697.8,637.6 690,636 C682.2,634.4 672.5,631.7 665,628 C657.5,624.3 651.2,619.3 645,614 C638.8,608.7 632.2,602 627.5,596 C622.8,590 618.8,581 617,578Z" fill="url(#cresG)" stroke="#2c2e2d" stroke-width="0.7"/>
<path d="M766,571 L816,573 L816,587 L774,589Z" fill="#cdd0ce" stroke="#2c2e2d" stroke-width="0.6"/>
<path d="M784,572 L785,588 M796,572.5 L797,588" fill="none" stroke="#2c2e2d" stroke-width="0.5" />
<path d="M612,560 C614.2,565 619,581.3 625,590 C631,598.7 638.8,606.2 648,612 C657.2,617.8 669.3,622.3 680,625 C690.7,627.7 702,628.8 712,628 C722,627.2 735.3,621.3 740,620" fill="none" stroke="#2c2e2d" stroke-width="0.6" />
<g clip-path="url(#cutClip)">
<path d="M347.3,568.2 L353.6,561.9 L362,560.5 L372.5,561.2 L380,590 L372,600 L357.8,596.2Z" fill="#a9acaa" stroke="#2c2e2d" stroke-width="0.6"/>
<path d="M352,566 L360,564 L372,592 L362,598Z" fill="#7f8280" stroke="#2c2e2d" stroke-width="0.5"/>
<path d="M553.7,224 L722,256 L722,300 L600,275 L540,262 L553.7,257Z" fill="#474948" />
<path d="M565.5,227.5 L719,256.5 L719,276 L565.5,248.8Z" fill="#565857" stroke="#2a2c2b" stroke-width="0.6"/>
<path d="M553.7,225 L565.5,227.5 L565.5,257 L553.7,257Z" fill="#3f4140" stroke="#2a2c2b" stroke-width="0.5"/>
<path d="M546.3,207.6 L725,239.5 L730,238 L761,243 L761,263 L751,263 L750,256.5 L738,258.5 L720,257.5 L553.7,225.5 L553.7,257 L546.3,257Z" fill="#b9bcba" stroke="#3a3c3b" stroke-width="0.7"/>
<path d="M546.3,207.6 L725,239.5 L730,238 L761,243" fill="none" stroke="#555" stroke-width="1.2" />
<path d="M338,611 L380,592 L520,622 L530,648Z" fill="#4f5150" />
<path d="M338,611 L378,589 L386,606 L350,614Z" fill="#3d3f3e" />
<path d="M545.1,259.5 L540.7,259.3 L536.4,259.3 L532.1,259.4 L527.8,259.7 L523.5,260.2 L519.2,260.8 L514.9,261.6 L510.6,262.6 L506.4,263.7 L502.1,265 L497.9,266.4 L493.7,268 L489.6,269.8 L485.4,271.7 L481.3,273.7 L477.3,276 L473.3,278.3 L469.3,280.9 L465.4,283.5 L461.5,286.4 L457.7,289.3 L453.9,292.5 L450.2,295.7 L446.5,299.1 L442.9,302.6 L439.3,306.3 L435.9,310.1 L432.5,314.1 L429.1,318.1 L425.8,322.3 L422.7,326.6 L419.5,331 L416.5,335.6 L413.5,340.2 L410.7,345 L407.9,349.9 L405.1,354.9 L402.5,359.9 L400,365.1 L397.5,370.4 L395.2,375.8 L392.9,381.2 L390.8,386.7 L388.7,392.3 L386.8,398 L384.9,403.8 L383.1,409.6 L381.5,415.5 L379.9,421.5 L378.5,427.5 L377.1,433.5 L375.9,439.6 L374.7,445.8 L373.7,452 L372.8,458.2 L372,464.5 L371.3,470.8 L370.7,477.1 L370.2,483.4 L369.8,489.8 L369.6,496.1 L369.4,502.5 L369.4,508.9 L369.5,515.2 L369.7,521.6 L370,527.9 L370.4,534.3 L370.9,540.6 L371.5,546.9 L372.3,553.1 L373.1,559.4 L374.1,565.6 L375.1,571.7 L376.3,577.9 L377.6,583.9 L379,590 L380.5,595.9 L382.1,601.8 L383.8,607.7 L445,620 L517.5,631 L524.4,631 L522.5,626.5 L520.7,621.9 L518.9,617.2 L517.3,612.4 L515.7,607.6 L514.3,602.7 L512.9,597.7 L511.7,592.6 L510.6,587.5 L509.5,582.3 L508.6,577 L507.8,571.8 L507.1,566.4 L506.5,561 L506,555.6 L505.6,550.1 L505.3,544.6 L505.1,539.1 L505.1,533.5 L505.1,528 L505.3,522.4 L505.5,516.7 L505.9,511.1 L506.4,505.5 L507,499.8 L507.7,494.2 L508.5,488.5 L509.4,482.9 L510.4,477.3 L511.5,471.7 L512.7,466.1 L514,460.5 L515.5,454.9 L517,449.4 L518.6,443.9 L520.3,438.5 L522.2,433.1 L524.1,427.7 L526.1,422.4 L528.2,417.1 L530.4,411.9 L532.7,406.7 L535.1,401.6 L537.6,396.6 L540.1,391.6 L542.8,386.7 L545.5,381.9 L548.3,377.2 L551.2,372.5 L554.2,367.9 L557.2,363.4 L560.3,359 L563.5,354.7 L566.8,350.5 L570.1,346.4 L573.5,342.3 L577,338.4 L580.5,334.6 L584,330.9 L587.7,327.3 L591.3,323.9 L595.1,320.5 L598.9,317.3 L602.7,314.2 L606.6,311.2 L610.5,308.3 L614.4,305.5 L618.4,302.9 L622.4,300.4 L626.5,298.1 L630.5,295.9 L634.6,293.8 L638.8,291.8 L642.9,290 L647.1,288.3 L651.2,286.8 L655.4,285.4 L659.6,284.2 L663.8,283 L668,282.1 L672.2,281.3 L676.4,280.6 L680.6,280 L684.8,279.7 L688.9,279.4 L693.1,279.3 L697.2,279.4 L701.4,279.6 L705.5,279.9 L709.5,280.4 L713.6,281 L717.6,281.8 L721.6,282.7 L725.5,283.8 L680,273 L614.8,268.8Z" fill="url(#rotorG)" stroke="#222" stroke-width="0.8"/>
<path d="M725.5,283.8 L721.6,282.7 L717.6,281.8 L713.6,281 L709.5,280.4 L705.5,279.9 L701.4,279.6 L697.2,279.4 L693.1,279.3 L688.9,279.4 L684.8,279.7 L680.6,280 L676.4,280.6 L672.2,281.3 L668,282.1 L663.8,283 L659.6,284.2 L655.4,285.4 L651.2,286.8 L647.1,288.3 L642.9,290 L638.8,291.8 L634.6,293.8 L630.5,295.9 L626.5,298.1 L622.4,300.4 L618.4,302.9 L614.4,305.5 L610.5,308.3 L606.6,311.2 L602.7,314.2 L598.9,317.3 L595.1,320.5 L591.3,323.9 L587.7,327.3 L584,330.9 L580.5,334.6 L577,338.4 L573.5,342.3 L570.1,346.4 L566.8,350.5 L563.5,354.7 L560.3,359 L557.2,363.4 L554.2,367.9 L551.2,372.5 L548.3,377.2 L545.5,381.9 L542.8,386.7 L540.1,391.6 L537.6,396.6 L535.1,401.6 L532.7,406.7 L530.4,411.9 L528.2,417.1 L526.1,422.4 L524.1,427.7 L522.2,433.1 L520.3,438.5 L518.6,443.9 L517,449.4 L515.5,454.9 L514,460.5 L512.7,466.1 L511.5,471.7 L510.4,477.3 L509.4,482.9 L508.5,488.5 L507.7,494.2 L507,499.8 L506.4,505.5 L505.9,511.1 L505.5,516.7 L505.3,522.4 L505.1,528 L505.1,533.5 L505.1,539.1 L505.3,544.6 L505.6,550.1 L506,555.6 L506.5,561 L507.1,566.4 L507.8,571.8 L508.6,577 L509.5,582.3 L510.6,587.5 L511.7,592.6 L512.9,597.7 L514.3,602.7 L515.7,607.6 L517.3,612.4 L518.9,617.2 L520.7,621.9 L522.5,626.5 L524.4,631 L535,626.5 L533.1,622.1 L531.4,617.8 L529.7,613.3 L528.2,608.8 L526.7,604.2 L525.4,599.5 L524.1,594.8 L522.9,590 L521.8,585.1 L520.8,580.2 L520,575.2 L519.2,570.1 L518.5,565 L517.9,559.9 L517.5,554.7 L517.1,549.4 L516.8,544.2 L516.6,538.9 L516.6,533.5 L516.6,528.2 L516.8,522.8 L517,517.4 L517.4,512 L517.8,506.5 L518.4,501.1 L519.1,495.7 L519.8,490.2 L520.7,484.8 L521.7,479.4 L522.8,474 L523.9,468.6 L525.2,463.2 L526.6,457.9 L528,452.6 L529.6,447.3 L531.3,442 L533,436.8 L534.9,431.7 L536.8,426.5 L538.8,421.5 L541,416.5 L543.2,411.5 L545.5,406.6 L547.8,401.8 L550.3,397 L552.8,392.3 L555.5,387.7 L558.2,383.1 L560.9,378.6 L563.8,374.3 L566.7,370 L569.7,365.8 L572.7,361.6 L575.8,357.6 L579,353.7 L582.2,349.9 L585.5,346.1 L588.8,342.5 L592.2,339 L595.7,335.6 L599.1,332.3 L602.7,329.2 L606.2,326.1 L609.8,323.2 L613.5,320.3 L617.2,317.6 L620.9,315.1 L624.6,312.6 L628.3,310.3 L632.1,308.1 L635.9,306 L639.7,304.1 L643.5,302.3 L647.4,300.6 L651.2,299.1 L655,297.7 L658.9,296.4 L662.7,295.2 L666.6,294.2 L670.4,293.3 L674.2,292.6 L678,292 L681.8,291.5 L685.6,291.1 L689.4,290.9 L693.2,290.8 L696.9,290.9 L700.6,291 L704.3,291.3 L708,291.8 L711.6,292.3 L715.2,293 L718.8,293.9 L722.5,294.9Z" fill="#585a59" stroke="#1e1f1f" stroke-width="0.7"/>
<path d="M725.1,285.2 L721.2,284.2 L717.3,283.3 L713.3,282.5 L709.3,281.9 L705.3,281.4 L701.3,281.1 L697.2,280.9 L693.1,280.8 L689,280.9 L684.9,281.2 L680.7,281.5 L676.6,282.1 L672.5,282.7 L668.3,283.5 L664.2,284.5 L660,285.6 L655.9,286.8 L651.7,288.2 L647.6,289.7 L643.5,291.4 L639.4,293.2 L635.3,295.1 L631.2,297.2 L627.2,299.4 L623.2,301.7 L619.2,304.2 L615.3,306.8 L611.3,309.5 L607.5,312.4 L603.6,315.3 L599.8,318.4 L596.1,321.6 L592.4,325 L588.7,328.4 L585.1,332 L581.6,335.7 L578.1,339.4 L574.6,343.3 L571.3,347.3 L568,351.4 L564.7,355.6 L561.5,359.9 L558.5,364.3 L555.4,368.7 L552.5,373.3 L549.6,377.9 L546.8,382.7 L544.1,387.4 L541.5,392.3 L538.9,397.3 L536.4,402.3 L534.1,407.3 L531.8,412.5 L529.6,417.7 L527.5,422.9 L525.5,428.2 L523.6,433.6 L521.8,438.9 L520,444.4 L518.4,449.8 L516.9,455.3 L515.5,460.8 L514.2,466.4 L513,472 L511.9,477.5 L510.8,483.1 L509.9,488.8 L509.2,494.4 L508.5,500 L507.9,505.6 L507.4,511.2 L507,516.8 L506.8,522.4 L506.6,528 L506.6,533.5 L506.6,539.1 L506.8,544.6 L507.1,550 L507.5,555.5 L508,560.9 L508.6,566.2 L509.3,571.5 L510.1,576.8 L511,582 L512,587.2 L513.2,592.3 L514.4,597.3 L515.7,602.2 L517.2,607.1 L518.7,612 L520.3,616.7 L522.1,621.4 L523.9,625.9 L525.8,630.5 L529.5,628.9 L527.6,624.4 L525.8,619.9 L524.1,615.4 L522.5,610.7 L521,606 L519.6,601.2 L518.3,596.3 L517.1,591.3 L516,586.3 L514.9,581.3 L514,576.2 L513.2,571 L512.5,565.7 L512,560.5 L511.5,555.2 L511.1,549.8 L510.8,544.4 L510.6,539 L510.6,533.5 L510.6,528.1 L510.8,522.6 L511,517 L511.4,511.5 L511.9,506 L512.4,500.4 L513.1,494.9 L513.9,489.4 L514.8,483.8 L515.8,478.3 L516.9,472.8 L518.1,467.3 L519.4,461.8 L520.8,456.4 L522.3,450.9 L523.9,445.5 L525.6,440.2 L527.4,434.9 L529.2,429.6 L531.2,424.4 L533.3,419.2 L535.5,414.1 L537.7,409 L540.1,404 L542.5,399.1 L545,394.2 L547.6,389.4 L550.3,384.7 L553,380 L555.9,375.4 L558.8,370.9 L561.7,366.5 L564.8,362.2 L567.9,358 L571.1,353.9 L574.3,349.9 L577.7,345.9 L581,342.1 L584.5,338.4 L587.9,334.8 L591.5,331.3 L595.1,327.9 L598.7,324.6 L602.4,321.5 L606.1,318.5 L609.9,315.6 L613.7,312.8 L617.5,310.1 L621.4,307.6 L625.2,305.2 L629.2,302.9 L633.1,300.7 L637.1,298.7 L641,296.8 L645,295.1 L649,293.5 L653.1,292 L657.1,290.7 L661.1,289.5 L665.1,288.4 L669.1,287.5 L673.2,286.7 L677.2,286 L681.2,285.5 L685.2,285.1 L689.2,284.9 L693.1,284.8 L697.1,284.9 L701,285 L704.9,285.4 L708.8,285.8 L712.6,286.4 L716.4,287.2 L720.2,288 L724.1,289.1Z" fill="#7e807f" />
<path d="M724.7,287 L720.8,285.9 L716.9,285 L713,284.3 L709.1,283.7 L705.1,283.2 L701.1,282.9 L697.1,282.7 L693.1,282.6 L689.1,282.7 L685,282.9 L680.9,283.3 L676.9,283.8 L672.8,284.5 L668.7,285.3 L664.6,286.3 L660.5,287.3 L656.4,288.6 L652.3,289.9 L648.2,291.4 L644.2,293.1 L640.1,294.8 L636.1,296.7 L632.1,298.8 L628.1,301 L624.1,303.3 L620.2,305.7 L616.3,308.3 L612.4,311 L608.5,313.8 L604.7,316.7 L601,319.8 L597.3,323 L593.6,326.3 L590,329.7 L586.4,333.3 L582.9,336.9 L579.4,340.6 L576,344.5 L572.7,348.5 L569.4,352.5 L566.2,356.7 L563,360.9 L559.9,365.3 L556.9,369.7 L554,374.3 L551.1,378.9 L548.4,383.6 L545.7,388.3 L543,393.2 L540.5,398.1 L538.1,403 L535.7,408.1 L533.4,413.2 L531.3,418.4 L529.2,423.6 L527.2,428.8 L525.3,434.1 L523.5,439.5 L521.8,444.9 L520.2,450.3 L518.6,455.8 L517.2,461.3 L515.9,466.8 L514.7,472.3 L513.6,477.9 L512.6,483.4 L511.7,489 L510.9,494.6 L510.3,500.2 L509.7,505.8 L509.2,511.4 L508.8,516.9 L508.6,522.5 L508.4,528 L508.4,533.5 L508.4,539 L508.6,544.5 L508.9,549.9 L509.3,555.3 L509.8,560.7 L510.4,566 L511.1,571.3 L511.9,576.5 L512.8,581.7 L513.8,586.8 L514.9,591.8 L516.1,596.8 L517.5,601.8 L518.9,606.6 L520.4,611.4 L522,616.1 L523.7,620.7 L525.5,625.3 L527.5,629.7" fill="none" stroke="#a3a5a4" stroke-width="1.5" />
<path d="M722.5,294.9 L718.8,293.9 L715.2,293 L711.6,292.3 L708,291.8 L704.3,291.3 L700.6,291 L696.9,290.9 L693.2,290.8 L689.4,290.9 L685.6,291.1 L681.8,291.5 L678,292 L674.2,292.6 L670.4,293.3 L666.6,294.2 L662.7,295.2 L658.9,296.4 L655,297.7 L651.2,299.1 L647.4,300.6 L643.5,302.3 L639.7,304.1 L635.9,306 L632.1,308.1 L628.3,310.3 L624.6,312.6 L620.9,315.1 L617.2,317.6 L613.5,320.3 L609.8,323.2 L606.2,326.1 L602.7,329.2 L599.1,332.3 L595.7,335.6 L592.2,339 L588.8,342.5 L585.5,346.1 L582.2,349.9 L579,353.7 L575.8,357.6 L572.7,361.6 L569.7,365.8 L566.7,370 L563.8,374.3 L560.9,378.6 L558.2,383.1 L555.5,387.7 L552.8,392.3 L550.3,397 L547.8,401.8 L545.5,406.6 L543.2,411.5 L541,416.5 L538.8,421.5 L536.8,426.5 L534.9,431.7 L533,436.8 L531.3,442 L529.6,447.3 L528,452.6 L526.6,457.9 L525.2,463.2 L523.9,468.6 L522.8,474 L521.7,479.4 L520.7,484.8 L519.8,490.2 L519.1,495.7 L518.4,501.1 L517.8,506.5 L517.4,512 L517,517.4 L516.8,522.8 L516.6,528.2 L516.6,533.5 L516.6,538.9 L516.8,544.2 L517.1,549.4 L517.5,554.7 L517.9,559.9 L518.5,565 L519.2,570.1 L520,575.2 L520.8,580.2 L521.8,585.1 L522.9,590 L524.1,594.8 L525.4,599.5 L526.7,604.2 L528.2,608.8 L529.7,613.3 L531.4,617.8 L533.1,622.1 L535,626.5 L576.3,610.6 L574.9,607.1 L573.5,603.5 L572.2,599.8 L571,596.1 L569.9,592.3 L568.8,588.4 L567.8,584.5 L567,580.6 L566.1,576.6 L565.4,572.5 L564.7,568.5 L564.2,564.4 L563.7,560.2 L563.3,556.1 L562.9,551.9 L562.7,547.7 L562.5,543.4 L562.4,539.2 L562.4,534.9 L562.5,530.7 L562.7,526.4 L562.9,522.1 L563.2,517.8 L563.7,513.5 L564.1,509.2 L564.7,504.9 L565.4,500.6 L566.1,496.4 L566.9,492.1 L567.8,487.9 L568.7,483.7 L569.8,479.5 L570.9,475.3 L572.1,471.1 L573.4,467 L574.7,463 L576.1,458.9 L577.6,454.9 L579.2,451 L580.8,447 L582.5,443.2 L584.3,439.4 L586.1,435.6 L588.1,431.9 L590,428.2 L592.1,424.6 L594.2,421.1 L596.3,417.6 L598.5,414.2 L600.8,410.9 L603.2,407.6 L605.6,404.5 L608,401.4 L610.5,398.3 L613.1,395.4 L615.7,392.5 L618.3,389.7 L621,387 L623.7,384.4 L626.5,381.9 L629.4,379.5 L632.2,377.2 L635.1,374.9 L638.1,372.8 L641.1,370.8 L644.1,368.8 L647.1,367 L650.2,365.3 L653.3,363.7 L656.4,362.2 L659.5,360.8 L662.7,359.5 L665.9,358.3 L669.1,357.2 L672.3,356.3 L675.6,355.4 L678.8,354.7 L682,354.1 L685.3,353.6 L688.5,353.3 L691.8,353 L695,352.9 L698.3,352.9 L701.5,353 L704.7,353.3 L707.9,353.6 L711.1,354.1 L714.2,354.7 L717.2,355.4Z" fill="#2e302f" />
<path d="M717.2,355.4 L714.2,354.7 L711.1,354.1 L707.9,353.6 L704.7,353.3 L701.5,353 L698.3,352.9 L695,352.9 L691.8,353 L688.5,353.3 L685.3,353.6 L682,354.1 L678.8,354.7 L675.6,355.4 L672.3,356.3 L669.1,357.2 L665.9,358.3 L662.7,359.5 L659.5,360.8 L656.4,362.2 L653.3,363.7 L650.2,365.3 L647.1,367 L644.1,368.8 L641.1,370.8 L638.1,372.8 L635.1,374.9 L632.2,377.2 L629.4,379.5 L626.5,381.9 L623.7,384.4 L621,387 L618.3,389.7 L615.7,392.5 L613.1,395.4 L610.5,398.3 L608,401.4 L605.6,404.5 L603.2,407.6 L600.8,410.9 L598.5,414.2 L596.3,417.6 L594.2,421.1 L592.1,424.6 L590,428.2 L588.1,431.9 L586.1,435.6 L584.3,439.4 L582.5,443.2 L580.8,447 L579.2,451 L577.6,454.9 L576.1,458.9 L574.7,463 L573.4,467 L572.1,471.1 L570.9,475.3 L569.8,479.5 L568.7,483.7 L567.8,487.9 L566.9,492.1 L566.1,496.4 L565.4,500.6 L564.7,504.9 L564.1,509.2 L563.7,513.5 L563.2,517.8 L562.9,522.1 L562.7,526.4 L562.5,530.7 L562.4,534.9 L562.4,539.2 L562.5,543.4 L562.7,547.7 L562.9,551.9 L563.3,556.1 L563.7,560.2 L564.2,564.4 L564.7,568.5 L565.4,572.5 L566.1,576.6 L567,580.6 L567.8,584.5 L568.8,588.4 L569.9,592.3 L571,596.1 L572.2,599.8 L573.5,603.5 L574.9,607.1 L576.3,610.6 L583.2,607.8 L581.9,604.4 L580.6,601 L579.3,597.4 L578.2,593.8 L577.1,590.2 L576.1,586.5 L575.1,582.8 L574.3,579 L573.5,575.1 L572.8,571.3 L572.2,567.3 L571.6,563.4 L571.1,559.4 L570.7,555.4 L570.4,551.4 L570.2,547.3 L570,543.2 L569.9,539.1 L569.9,535 L570,530.9 L570.2,526.7 L570.4,522.6 L570.7,518.4 L571.1,514.3 L571.6,510.1 L572.1,506 L572.8,501.8 L573.5,497.7 L574.3,493.6 L575.1,489.5 L576,485.4 L577.1,481.3 L578.1,477.3 L579.3,473.3 L580.5,469.3 L581.8,465.4 L583.2,461.5 L584.6,457.6 L586.1,453.8 L587.7,450 L589.4,446.3 L591.1,442.6 L592.9,439 L594.7,435.4 L596.6,431.9 L598.5,428.4 L600.6,425 L602.6,421.7 L604.8,418.4 L607,415.2 L609.2,412.1 L611.5,409 L613.8,406.1 L616.2,403.2 L618.7,400.4 L621.1,397.6 L623.7,395 L626.2,392.4 L628.8,389.9 L631.5,387.6 L634.2,385.3 L636.9,383.1 L639.6,380.9 L642.4,378.9 L645.2,377 L648,375.2 L650.9,373.5 L653.8,371.9 L656.6,370.4 L659.6,369 L662.5,367.7 L665.4,366.5 L668.4,365.4 L671.4,364.4 L674.3,363.5 L677.3,362.7 L680.3,362.1 L683.3,361.5 L686.2,361.1 L689.2,360.7 L692.2,360.5 L695.2,360.4 L698.1,360.4 L701.1,360.5 L704,360.7 L706.9,361.1 L709.8,361.5 L712.7,362.1 L715.6,362.7Z" fill="#5d5f5e" stroke="#1e1f1f" stroke-width="0.5"/>
<path d="M713.2,372.9 L710.5,372.3 L708.1,371.9 L705.5,371.5 L703,371.2 L700.5,371 L697.9,370.9 L695.4,370.9 L692.8,371 L690.2,371.2 L687.6,371.5 L685,371.9 L682.4,372.4 L679.8,372.9 L677.1,373.6 L674.5,374.4 L671.9,375.3 L669.2,376.2 L666.6,377.3 L664,378.5 L661.4,379.8 L658.8,381.1 L656.2,382.6 L653.6,384.1 L651,385.8 L648.4,387.5 L645.9,389.4 L643.4,391.3 L640.9,393.3 L638.4,395.4 L636,397.6 L633.6,399.9 L631.2,402.3 L628.8,404.8 L626.5,407.3 L624.2,409.9 L622,412.7 L619.8,415.4 L617.7,418.3 L615.6,421.2 L613.5,424.2 L611.5,427.3 L609.5,430.5 L607.6,433.7 L605.8,436.9 L604,440.3 L602.2,443.7 L600.6,447.1 L598.9,450.6 L597.4,454.1 L595.9,457.7 L594.4,461.4 L593.1,465 L591.8,468.8 L590.5,472.5 L589.4,476.3 L588.2,480.1 L587.2,484 L586.3,487.8 L585.4,491.7 L584.5,495.6 L583.8,499.6 L583.1,503.5 L582.5,507.4 L582,511.4 L581.6,515.4 L581.2,519.3 L580.9,523.3 L580.7,527.2 L580.5,531.2 L580.4,535.1 L580.4,539 L580.5,542.9 L580.7,546.8 L580.9,550.6 L581.2,554.5 L581.6,558.3 L582,562.1 L582.5,565.8 L583.1,569.5 L583.8,573.1 L584.5,576.8 L585.4,580.3 L586.2,583.8 L587.2,587.3 L588.2,590.7 L589.3,594.1 L590.4,597.4 L591.7,600.6 L593,603.9 L590,603 L609,593 L613,560 L623,530 L633,500 L650,480 L672,468 L699,452 L705.5,420 L705,376 L712,372Z" fill="#c6c9c7" />
<path d="M715.6,362.7 L712.7,362.1 L709.8,361.5 L706.9,361.1 L704,360.7 L701.1,360.5 L698.1,360.4 L695.2,360.4 L692.2,360.5 L689.2,360.7 L686.2,361.1 L683.3,361.5 L680.3,362.1 L677.3,362.7 L674.3,363.5 L671.4,364.4 L668.4,365.4 L665.4,366.5 L662.5,367.7 L659.6,369 L656.6,370.4 L653.8,371.9 L650.9,373.5 L648,375.2 L645.2,377 L642.4,378.9 L639.6,380.9 L636.9,383.1 L634.2,385.3 L631.5,387.6 L628.8,389.9 L626.2,392.4 L623.7,395 L621.1,397.6 L618.7,400.4 L616.2,403.2 L613.8,406.1 L611.5,409 L609.2,412.1 L607,415.2 L604.8,418.4 L602.6,421.7 L600.6,425 L598.5,428.4 L596.6,431.9 L594.7,435.4 L592.9,439 L591.1,442.6 L589.4,446.3 L587.7,450 L586.1,453.8 L584.6,457.6 L583.2,461.5 L581.8,465.4 L580.5,469.3 L579.3,473.3 L578.1,477.3 L577.1,481.3 L576,485.4 L575.1,489.5 L574.3,493.6 L573.5,497.7 L572.8,501.8 L572.1,506 L571.6,510.1 L571.1,514.3 L570.7,518.4 L570.4,522.6 L570.2,526.7 L570,530.9 L569.9,535 L569.9,539.1 L570,543.2 L570.2,547.3 L570.4,551.4 L570.7,555.4 L571.1,559.4 L571.6,563.4 L572.2,567.3 L572.8,571.3 L573.5,575.1 L574.3,579 L575.1,582.8 L576.1,586.5 L577.1,590.2 L578.2,593.8 L579.3,597.4 L580.6,601 L581.9,604.4 L583.2,607.8 L588.1,605.9 L586.7,602.5 L585.5,599.2 L584.3,595.8 L583.1,592.3 L582.1,588.8 L581.1,585.2 L580.2,581.6 L579.4,577.9 L578.6,574.1 L577.9,570.4 L577.3,566.6 L576.8,562.7 L576.3,558.9 L575.9,554.9 L575.6,551 L575.4,547.1 L575.2,543.1 L575.1,539.1 L575.1,535 L575.2,531 L575.4,527 L575.6,522.9 L575.9,518.9 L576.3,514.8 L576.7,510.7 L577.3,506.7 L577.9,502.6 L578.6,498.6 L579.4,494.6 L580.2,490.6 L581.1,486.6 L582.1,482.6 L583.1,478.7 L584.3,474.8 L585.5,470.9 L586.7,467.1 L588.1,463.2 L589.5,459.5 L591,455.7 L592.5,452 L594.1,448.4 L595.8,444.8 L597.5,441.3 L599.3,437.8 L601.1,434.4 L603,431 L605,427.7 L607,424.5 L609.1,421.3 L611.2,418.2 L613.4,415.2 L615.6,412.2 L617.9,409.3 L620.2,406.5 L622.6,403.8 L625,401.2 L627.4,398.6 L629.9,396.1 L632.4,393.8 L634.9,391.5 L637.5,389.3 L640.1,387.1 L642.7,385.1 L645.4,383.2 L648.1,381.4 L650.8,379.6 L653.5,378 L656.2,376.5 L659,375 L661.8,373.7 L664.5,372.4 L667.3,371.3 L670.1,370.3 L672.9,369.3 L675.7,368.5 L678.5,367.8 L681.3,367.2 L684.1,366.6 L686.9,366.2 L689.7,365.9 L692.5,365.7 L695.3,365.6 L698,365.6 L700.8,365.7 L703.5,365.9 L706.2,366.2 L708.9,366.6 L711.6,367.1 L714.4,367.8Z" fill="#e4e41f" stroke="#1e1f1f" stroke-width="0.5"/>
<path d="M714.4,367.8 L711.6,367.1 L708.9,366.6 L706.2,366.2 L703.5,365.9 L700.8,365.7 L698,365.6 L695.3,365.6 L692.5,365.7 L689.7,365.9 L686.9,366.2 L684.1,366.6 L681.3,367.2 L678.5,367.8 L675.7,368.5 L672.9,369.3 L670.1,370.3 L667.3,371.3 L664.5,372.4 L661.8,373.7 L659,375 L656.2,376.5 L653.5,378 L650.8,379.6 L648.1,381.4 L645.4,383.2 L642.7,385.1 L640.1,387.1 L637.5,389.3 L634.9,391.5 L632.4,393.8 L629.9,396.1 L627.4,398.6 L625,401.2 L622.6,403.8 L620.2,406.5 L617.9,409.3 L615.6,412.2 L613.4,415.2 L611.2,418.2 L609.1,421.3 L607,424.5 L605,427.7 L603,431 L601.1,434.4 L599.3,437.8 L597.5,441.3 L595.8,444.8 L594.1,448.4 L592.5,452 L591,455.7 L589.5,459.5 L588.1,463.2 L586.7,467.1 L585.5,470.9 L584.3,474.8 L583.1,478.7 L582.1,482.6 L581.1,486.6 L580.2,490.6 L579.4,494.6 L578.6,498.6 L577.9,502.6 L577.3,506.7 L576.7,510.7 L576.3,514.8 L575.9,518.9 L575.6,522.9 L575.4,527 L575.2,531 L575.1,535 L575.1,539.1 L575.2,543.1 L575.4,547.1 L575.6,551 L575.9,554.9 L576.3,558.9 L576.8,562.7 L577.3,566.6 L577.9,570.4 L578.6,574.1 L579.4,577.9 L580.2,581.6 L581.1,585.2 L582.1,588.8 L583.1,592.3 L584.3,595.8 L585.5,599.2 L586.7,602.5 L588.1,605.9 L593,603.9 L591.7,600.6 L590.4,597.4 L589.3,594.1 L588.2,590.7 L587.2,587.3 L586.2,583.8 L585.4,580.3 L584.5,576.8 L583.8,573.1 L583.1,569.5 L582.5,565.8 L582,562.1 L581.6,558.3 L581.2,554.5 L580.9,550.6 L580.7,546.8 L580.5,542.9 L580.4,539 L580.4,535.1 L580.5,531.2 L580.7,527.2 L580.9,523.3 L581.2,519.3 L581.6,515.4 L582,511.4 L582.5,507.4 L583.1,503.5 L583.8,499.6 L584.5,495.6 L585.4,491.7 L586.3,487.8 L587.2,484 L588.2,480.1 L589.4,476.3 L590.5,472.5 L591.8,468.8 L593.1,465 L594.4,461.4 L595.9,457.7 L597.4,454.1 L598.9,450.6 L600.6,447.1 L602.2,443.7 L604,440.3 L605.8,436.9 L607.6,433.7 L609.5,430.5 L611.5,427.3 L613.5,424.2 L615.6,421.2 L617.7,418.3 L619.8,415.4 L622,412.7 L624.2,409.9 L626.5,407.3 L628.8,404.8 L631.2,402.3 L633.6,399.9 L636,397.6 L638.4,395.4 L640.9,393.3 L643.4,391.3 L645.9,389.4 L648.4,387.5 L651,385.8 L653.6,384.1 L656.2,382.6 L658.8,381.1 L661.4,379.8 L664,378.5 L666.6,377.3 L669.2,376.2 L671.9,375.3 L674.5,374.4 L677.1,373.6 L679.8,372.9 L682.4,372.4 L685,371.9 L687.6,371.5 L690.2,371.2 L692.8,371 L695.4,370.9 L697.9,370.9 L700.5,371 L703,371.2 L705.5,371.5 L708.1,371.9 L710.5,372.3 L713.2,372.9Z" fill="#959519" stroke="#1e1f1f" stroke-width="0.5"/>
<path d="M324.7,619.2 L338.2,610.6 L546.3,652.5 L540,660 L535.5,661.5Z" fill="#c2c5c3" stroke="#3a3c3b" stroke-width="0.7"/>
<path d="M338.2,610.6 L376,587 L380.5,591.5 L348,612.6Z" fill="#c2c5c3" stroke="#3a3c3b" stroke-width="0.6"/>
</g>
<path d="M720,257.5 L730,258 L722.5,361.5 L712.5,361Z" fill="#4b4d4c" stroke="#222" stroke-width="0.6"/>
<path d="M730,257.5 L741,256.5 L739.5,302 L729.5,304 L728.5,360 L731,366 L731.5,376 L712,377.5 L706,383 L705.5,420 L702,440 L699,452 L696,452 L699,420 L698.5,388 L690,377 L681,376 L681,364 L712.5,361.5 L722.5,361.5Z" fill="#c0c3c1" stroke="#333" stroke-width="0.6"/>
<path d="M740,275 L740,256 Q740,251 745.5,251 Q751,251 751,256 L751,275Z" fill="#1e6fe0" stroke="#222" stroke-width="0.5"/>
<path d="M738.5,275 L750,275 L749.5,302.5 L738,302.5Z" fill="#e0ae7a" stroke="#333" stroke-width="0.5"/>
<path d="M512.6,643 L520.4,636.3 L570.8,603.3 L595,594 L597,597 L524,647Z" fill="#4a4c4b" stroke="#222" stroke-width="0.6"/>
<path d="M523.3,646.9 L595,596.5 L605,592.5 L612,593 L597,599.4 L558.2,627.5 L543.6,642 L530,650Z" fill="#c0c3c1" stroke="#333" stroke-width="0.6"/>
<path d="M543.6,643 L560.1,629.5 L569.8,631.4 L552.4,646Z" fill="#e3b27e" stroke="#333" stroke-width="0.5"/>
<path d="M528,652.5 Q532,650.5 537,651.5 Q538,654.5 533,655 Q529,655 528,652.5Z" fill="#1e6fe0" />
<g clip-path="url(#cutClip)">
<path d="M668,377 L700,378 L704,384 L703,440 L699,452 L690,458 L668,440Z" fill="#8e918f" stroke="#333" stroke-width="0.5"/>
<path d="M666,425 L699,424 L699,452 L690,462 L668,463Z" fill="#d2d5d3" stroke="#333" stroke-width="0.5"/>
<path d="M668,395 C667.7,391.3 671.5,390.2 674,393 C676.5,395.8 680.8,405.5 683,412 C685.2,418.5 687.3,428.3 687,432 C686.7,435.7 682.8,436.8 681,434 C679.2,431.2 678.2,421.5 676,415 C673.8,408.5 668.3,398.7 668,395Z" fill="#8e8e1c" stroke="#333" stroke-width="0.5"/>
<path d="M578,489 L632,492 L632,498 L578,496Z" fill="#b9bcba" stroke="#444" stroke-width="0.5"/>
<path d="M578,499 L632,502 L632,508 L578,506Z" fill="#c4c7c5" stroke="#444" stroke-width="0.5"/>
<path d="M578,509 L632,512 L632,518 L578,516Z" fill="#b3b6b4" stroke="#444" stroke-width="0.5"/>
<path d="M585,452 L590,444 L642,474 L638,486Z" fill="#7f8280" stroke="#333" stroke-width="0.5"/>
<path d="M578,552 L622,521 L627,530 L582,561Z" fill="#7f8280" stroke="#333" stroke-width="0.5"/>
<path d="M657,381 L668,381 L657,483 L647,483Z" fill="#858886" stroke="#333" stroke-width="0.5"/>
<path d="M612,537 L640,528 L648,540 L646,556 L616,558Z" fill="#cfd2d0" stroke="#444" stroke-width="0.5"/>
<path d="M715.6,362.7 L712.7,362.1 L709.8,361.5 L706.9,361.1 L704,360.7 L701.1,360.5 L698.1,360.4 L695.2,360.4 L692.2,360.5 L689.2,360.7 L686.2,361.1 L683.3,361.5 L680.3,362.1 L677.3,362.7 L674.3,363.5 L671.4,364.4 L668.4,365.4 L665.4,366.5 L662.5,367.7 L659.6,369 L656.6,370.4 L653.8,371.9 L650.9,373.5 L648,375.2 L645.2,377 L642.4,378.9 L639.6,380.9 L636.9,383.1 L634.2,385.3 L631.5,387.6 L628.8,389.9 L626.2,392.4 L623.7,395 L621.1,397.6 L618.7,400.4 L616.2,403.2 L613.8,406.1 L611.5,409 L609.2,412.1 L607,415.2 L604.8,418.4 L602.6,421.7 L600.6,425 L598.5,428.4 L596.6,431.9 L594.7,435.4 L592.9,439 L591.1,442.6 L589.4,446.3 L587.7,450 L586.1,453.8 L584.6,457.6 L583.2,461.5 L581.8,465.4 L580.5,469.3 L579.3,473.3 L578.1,477.3 L577.1,481.3 L576,485.4 L575.1,489.5 L574.3,493.6 L573.5,497.7 L572.8,501.8 L572.1,506 L571.6,510.1 L571.1,514.3 L570.7,518.4 L570.4,522.6 L570.2,526.7 L570,530.9 L569.9,535 L569.9,539.1 L570,543.2 L570.2,547.3 L570.4,551.4 L570.7,555.4 L571.1,559.4 L571.6,563.4 L572.2,567.3 L572.8,571.3 L573.5,575.1 L574.3,579 L575.1,582.8 L576.1,586.5 L577.1,590.2 L578.2,593.8 L579.3,597.4 L580.6,601 L581.9,604.4 L583.2,607.8 L588.1,605.9 L586.7,602.5 L585.5,599.2 L584.3,595.8 L583.1,592.3 L582.1,588.8 L581.1,585.2 L580.2,581.6 L579.4,577.9 L578.6,574.1 L577.9,570.4 L577.3,566.6 L576.8,562.7 L576.3,558.9 L575.9,554.9 L575.6,551 L575.4,547.1 L575.2,543.1 L575.1,539.1 L575.1,535 L575.2,531 L575.4,527 L575.6,522.9 L575.9,518.9 L576.3,514.8 L576.7,510.7 L577.3,506.7 L577.9,502.6 L578.6,498.6 L579.4,494.6 L580.2,490.6 L581.1,486.6 L582.1,482.6 L583.1,478.7 L584.3,474.8 L585.5,470.9 L586.7,467.1 L588.1,463.2 L589.5,459.5 L591,455.7 L592.5,452 L594.1,448.4 L595.8,444.8 L597.5,441.3 L599.3,437.8 L601.1,434.4 L603,431 L605,427.7 L607,424.5 L609.1,421.3 L611.2,418.2 L613.4,415.2 L615.6,412.2 L617.9,409.3 L620.2,406.5 L622.6,403.8 L625,401.2 L627.4,398.6 L629.9,396.1 L632.4,393.8 L634.9,391.5 L637.5,389.3 L640.1,387.1 L642.7,385.1 L645.4,383.2 L648.1,381.4 L650.8,379.6 L653.5,378 L656.2,376.5 L659,375 L661.8,373.7 L664.5,372.4 L667.3,371.3 L670.1,370.3 L672.9,369.3 L675.7,368.5 L678.5,367.8 L681.3,367.2 L684.1,366.6 L686.9,366.2 L689.7,365.9 L692.5,365.7 L695.3,365.6 L698,365.6 L700.8,365.7 L703.5,365.9 L706.2,366.2 L708.9,366.6 L711.6,367.1 L714.4,367.8Z" fill="#e4e41f" stroke="#1e1f1f" stroke-width="0.5"/>
<path d="M714.4,367.8 L711.6,367.1 L708.9,366.6 L706.2,366.2 L703.5,365.9 L700.8,365.7 L698,365.6 L695.3,365.6 L692.5,365.7 L689.7,365.9 L686.9,366.2 L684.1,366.6 L681.3,367.2 L678.5,367.8 L675.7,368.5 L672.9,369.3 L670.1,370.3 L667.3,371.3 L664.5,372.4 L661.8,373.7 L659,375 L656.2,376.5 L653.5,378 L650.8,379.6 L648.1,381.4 L645.4,383.2 L642.7,385.1 L640.1,387.1 L637.5,389.3 L634.9,391.5 L632.4,393.8 L629.9,396.1 L627.4,398.6 L625,401.2 L622.6,403.8 L620.2,406.5 L617.9,409.3 L615.6,412.2 L613.4,415.2 L611.2,418.2 L609.1,421.3 L607,424.5 L605,427.7 L603,431 L601.1,434.4 L599.3,437.8 L597.5,441.3 L595.8,444.8 L594.1,448.4 L592.5,452 L591,455.7 L589.5,459.5 L588.1,463.2 L586.7,467.1 L585.5,470.9 L584.3,474.8 L583.1,478.7 L582.1,482.6 L581.1,486.6 L580.2,490.6 L579.4,494.6 L578.6,498.6 L577.9,502.6 L577.3,506.7 L576.7,510.7 L576.3,514.8 L575.9,518.9 L575.6,522.9 L575.4,527 L575.2,531 L575.1,535 L575.1,539.1 L575.2,543.1 L575.4,547.1 L575.6,551 L575.9,554.9 L576.3,558.9 L576.8,562.7 L577.3,566.6 L577.9,570.4 L578.6,574.1 L579.4,577.9 L580.2,581.6 L581.1,585.2 L582.1,588.8 L583.1,592.3 L584.3,595.8 L585.5,599.2 L586.7,602.5 L588.1,605.9 L593,603.9 L591.7,600.6 L590.4,597.4 L589.3,594.1 L588.2,590.7 L587.2,587.3 L586.2,583.8 L585.4,580.3 L584.5,576.8 L583.8,573.1 L583.1,569.5 L582.5,565.8 L582,562.1 L581.6,558.3 L581.2,554.5 L580.9,550.6 L580.7,546.8 L580.5,542.9 L580.4,539 L580.4,535.1 L580.5,531.2 L580.7,527.2 L580.9,523.3 L581.2,519.3 L581.6,515.4 L582,511.4 L582.5,507.4 L583.1,503.5 L583.8,499.6 L584.5,495.6 L585.4,491.7 L586.3,487.8 L587.2,484 L588.2,480.1 L589.4,476.3 L590.5,472.5 L591.8,468.8 L593.1,465 L594.4,461.4 L595.9,457.7 L597.4,454.1 L598.9,450.6 L600.6,447.1 L602.2,443.7 L604,440.3 L605.8,436.9 L607.6,433.7 L609.5,430.5 L611.5,427.3 L613.5,424.2 L615.6,421.2 L617.7,418.3 L619.8,415.4 L622,412.7 L624.2,409.9 L626.5,407.3 L628.8,404.8 L631.2,402.3 L633.6,399.9 L636,397.6 L638.4,395.4 L640.9,393.3 L643.4,391.3 L645.9,389.4 L648.4,387.5 L651,385.8 L653.6,384.1 L656.2,382.6 L658.8,381.1 L661.4,379.8 L664,378.5 L666.6,377.3 L669.2,376.2 L671.9,375.3 L674.5,374.4 L677.1,373.6 L679.8,372.9 L682.4,372.4 L685,371.9 L687.6,371.5 L690.2,371.2 L692.8,371 L695.4,370.9 L697.9,370.9 L700.5,371 L703,371.2 L705.5,371.5 L708.1,371.9 L710.5,372.3 L713.2,372.9Z" fill="#959519" stroke="#1e1f1f" stroke-width="0.5"/>
</g>
<radialGradient id="hbG" gradientUnits="userSpaceOnUse" cx="640" cy="490" r="52"><stop offset="0" stop-color="#b9bcba"/><stop offset="0.55" stop-color="#8c8f8d"/><stop offset="1" stop-color="#6c6f6d"/></radialGradient>
<ellipse cx="662" cy="510" rx="42" ry="40" fill="url(#hbG)" stroke="#333" stroke-width="0.6"/>
<radialGradient id="bossG" gradientUnits="userSpaceOnUse" cx="640" cy="575" r="55"><stop offset="0" stop-color="#e6e8e7"/><stop offset="0.5" stop-color="#b3b6b4"/><stop offset="1" stop-color="#787b79"/></radialGradient>
<ellipse cx="657.5" cy="585" rx="30.5" ry="37.5" fill="url(#bossG)" stroke="#2c2e2d" stroke-width="0.7"/>
<path d="M656,557 C659,547.7 680,555.5 690,557 C700,558.5 710,561.5 716,566 C722,570.5 725,577.8 726,584 C727,590.2 726.3,598.2 722,603 C717.7,607.8 708.3,611.3 700,613 C691.7,614.7 679.3,622.3 672,613 C664.7,603.7 653,566.3 656,557Z" fill="#8f8fbb" stroke="#2a2a3a" stroke-width="0.7"/>
<ellipse cx="661" cy="585" rx="17" ry="29" fill="#c6c6ee" stroke="#2a2a3a" stroke-width="0.7"/>
<ellipse cx="667" cy="585" rx="9" ry="13" fill="#d8d8f8" stroke="#2a2a3a" stroke-width="0.6"/>
<path d="M672,580 L716,590 L714,601 L670,592Z" fill="#d4d4f6" stroke="#2a2a3a" stroke-width="0.6"/>
<ellipse cx="713.5" cy="595" rx="5.5" ry="7" fill="#8a8ab2" stroke="#2a2a3a" stroke-width="0.6"/>
<ellipse cx="714.5" cy="596" rx="3" ry="4.5" fill="#f6f6ff"/>
<ellipse cx="672" cy="513" rx="33" ry="28" fill="#8e908f" stroke="#2c2e2d" stroke-width="0.7"/>
<ellipse cx="665" cy="510" rx="20" ry="22" fill="#b2b4b3" opacity="0.7"/>
<ellipse cx="680" cy="512" rx="26" ry="25" fill="#c4c4ec" stroke="#2a2a3a" stroke-width="0.8"/>
<ellipse cx="684" cy="512" rx="19" ry="19" fill="#8a8ab0" stroke="#2a2a3a" stroke-width="0.7"/>
<ellipse cx="686" cy="512" rx="15" ry="15" fill="#b5b5dc" stroke="#2a2a3a" stroke-width="0.6"/>
<path d="M676,503 L708,509 L708,527 L676,522Z" fill="#a3a5a4" stroke="#2a2c2b" stroke-width="0.6"/>
<ellipse cx="707" cy="518" rx="9" ry="10" fill="#8d8f8e" stroke="#2a2c2b" stroke-width="0.7"/>
<circle cx="708" cy="518" r="2.2" fill="#e6e8e7"/>
<path d="M675,470 L694,463 L696,470 L677,477Z" fill="#cacaf0" stroke="#2a2a3a" stroke-width="0.6"/>
<ellipse cx="676" cy="473.5" rx="2" ry="3.5" fill="#e4e4fc" stroke="#2a2a3a" stroke-width="0.5"/>
<path d="M702.4,451.8 L719.6,450.4 L719.6,469.2 L702.4,467.8Z" fill="#c2c2ea" stroke="#2a2a3a" stroke-width="0.6"/>
<path d="M707,451.3 L707,468.3" fill="none" stroke="#2a2a3a" stroke-width="0.5" />
<path d="M694,458.5 L700,453 L706,458.5 L706,469.5 L700,475 L694,469.5Z" fill="#a6a6d6" stroke="#2a2a3a" stroke-width="0.7"/>
<path d="M694,458.5 L700,453 L700.6,464 L694,466.2Z" fill="#dedefa" />
<ellipse cx="719.6" cy="459.8" rx="7.4" ry="9.4" fill="#8e8ebc" stroke="#2a2a3a" stroke-width="0.7"/>
<path d="M739.9,469.8 L758,468.4 L758,486.4 L739.9,485Z" fill="#c2c2ea" stroke="#2a2a3a" stroke-width="0.6"/>
<path d="M744.9,469.3 L744.9,485.5" fill="none" stroke="#2a2a3a" stroke-width="0.5" />
<path d="M730.4,474.7 L737.1,469.3 L743.9,474.7 L743.9,485.4 L737.1,490.8 L730.4,485.4Z" fill="#a6a6d6" stroke="#2a2a3a" stroke-width="0.7"/>
<path d="M730.4,474.7 L737.1,469.3 L737.8,480.1 L730.4,482.2Z" fill="#dedefa" />
<ellipse cx="758" cy="477.4" rx="7" ry="9" fill="#8e8ebc" stroke="#2a2a3a" stroke-width="0.7"/>
<path d="M815.2,459.8 L832.8,458.4 L832.8,477.4 L815.2,476Z" fill="#c2c2ea" stroke="#2a2a3a" stroke-width="0.6"/>
<path d="M820.3,459.3 L820.3,476.4" fill="none" stroke="#2a2a3a" stroke-width="0.5" />
<path d="M805.8,459.1 L812.5,453 L819.3,459.1 L819.3,471.3 L812.5,477.4 L805.8,471.3Z" fill="#a6a6d6" stroke="#2a2a3a" stroke-width="0.7"/>
<path d="M805.8,459.1 L812.5,453 L813.2,465.2 L805.8,467.6Z" fill="#dedefa" />
<ellipse cx="832.8" cy="467.9" rx="8" ry="9.5" fill="#8e8ebc" stroke="#2a2a3a" stroke-width="0.7"/>
<path d="M716.4,542.6 L733,542 L733,550 L716.4,549.4Z" fill="#c2c2ea" stroke="#2a2a3a" stroke-width="0.6"/>
<path d="M721,542.4 L721,549.6" fill="none" stroke="#2a2a3a" stroke-width="0.5" />
<path d="M708,541 L714,537 L720,541 L720,549 L714,553 L708,549Z" fill="#a6a6d6" stroke="#2a2a3a" stroke-width="0.7"/>
<path d="M708,541 L714,537 L714.6,545 L708,546.6Z" fill="#dedefa" />
<ellipse cx="733" cy="546" rx="2.5" ry="4" fill="#8e8ebc" stroke="#2a2a3a" stroke-width="0.7"/>
<path d="M733,542 L739,543 L739,549.5 L733,550Z" fill="#d2d2f4" stroke="#2a2a3a" stroke-width="0.5"/>
<ellipse cx="739" cy="546.3" rx="2" ry="3.2" fill="#ececff" stroke="#2a2a3a" stroke-width="0.5"/>
<ellipse cx="791" cy="524" rx="32" ry="42" transform="rotate(14 791 524)" fill="#8787ab" stroke="#2a2a3a" stroke-width="0.8"/>
<ellipse cx="794" cy="522" rx="24" ry="33" transform="rotate(14 794 522)" fill="#cfcff3" stroke="#2a2a3a" stroke-width="0.7"/>
<path d="M772,505 C773.3,498.2 778.7,497.8 782,497 C785.3,496.2 790.3,496.2 792,500 C793.7,503.8 793.3,513.3 792,520 C790.7,526.7 787,537 784,540 C781,543 776,543.8 774,538 C772,532.2 770.7,511.8 772,505Z" fill="#9c9cc6" stroke="#2a2a3a" stroke-width="0.6"/>
<ellipse cx="776" cy="515" rx="4" ry="8" fill="#6f6f96"/>
<circle cx="803" cy="492" r="1.6" fill="#f4f4ff"/>
<circle cx="814" cy="506" r="1.6" fill="#f4f4ff"/>
<circle cx="817" cy="540" r="1.6" fill="#f4f4ff"/>
<circle cx="790" cy="560" r="1.6" fill="#f4f4ff"/>
<circle cx="766" cy="552" r="1.6" fill="#f4f4ff"/>
<circle cx="763" cy="503" r="1.6" fill="#f4f4ff"/>
<ellipse cx="815" cy="556" rx="6" ry="5" fill="none" stroke="#2a2a3a" stroke-width="0.7"/>
<circle cx="815" cy="556" r="1.5" fill="#ddd"/>
<path d="M759.9,245.4 L766.8,245.2 L773.8,245.2 L780.8,245.6 L787.7,246.3 L794.5,247.4 L801.3,248.8 L808.1,250.5 L814.8,252.6 L821.4,254.9 L827.9,257.6 L834.3,260.7 L840.6,264 L846.9,267.6 L853,271.6 L858.9,275.8 L864.8,280.4 L870.5,285.2 L876.1,290.4 L881.5,295.8 L886.8,301.4 L891.9,307.4 L896.8,313.6 L901.6,320.1 L906.2,326.8 L910.6,333.7 L914.8,340.9 L918.8,348.3 L922.6,355.9 L926.2,363.7 L929.6,371.7 L932.7,379.9 L935.7,388.2 L938.4,396.7 L941,405.4 L943.2,414.2 L945.3,423.1 L947.1,432.2 L948.7,441.4 L950.1,450.7 L951.2,460 L952.1,469.5 L952.7,479 L953.1,488.5 L953.2,498.2 L953.2,507.8 L952.8,517.5 L952.2,527.1 L951.4,536.8 L950.4,546.4 L949.1,556.1 L947.6,565.7 L945.8,575.2 L943.8,584.7 L941.6,594.1 L939.1,603.4 L936.4,612.7 L933.5,621.8 L930.4,630.8 L927.1,639.7 L923.5,648.4 L919.8,657 L915.8,665.5 L911.7,673.8 L907.3,681.9 L902.8,689.8 L898.1,697.5 L893.2,705 L888.1,712.3 L882.9,719.4 L877.5,726.2 L872,732.8 L866.3,739.2 L860.5,745.3 L854.5,751.1 L848.4,756.6 L842.3,761.9 L836,766.9 L829.6,771.7 L823.1,776.1 L816.5,780.2 L809.8,784 L803.1,787.5 L796.3,790.7 L789.4,793.6 L782.5,796.1 L775.6,798.4 L768.6,800.3 L761.7,801.9 L754.7,803.1 L754.7,803.1 C750.3,803.5 736.2,804.8 728.8,805.3 C721.3,805.8 716.2,806.2 710,806.2 C703.8,806.2 697.5,806 691.2,805.6 C685,805.2 678.8,804.7 672.5,803.8 C666.2,802.8 660,801.6 653.8,800 C647.5,798.4 641.2,796.3 635,794.4 C628.8,792.5 622.5,790.8 616.2,788.8 C610,786.7 603.8,784.1 597.5,782.2 C591.2,780.3 585,778.7 578.8,777.5 C572.5,776.3 565.6,776 560,775.2 C554.4,774.4 551.7,773.9 545,772.8 C538.3,771.7 528.3,770 520,768.5 C511.7,767 503.3,765.3 495,763.6 C486.7,761.9 478.3,760.2 470,758.2 C461.7,756.2 453.3,754.2 445,751.5 C436.7,748.8 428.3,745.7 420,742 C411.7,738.3 403.3,734.8 395,729.5 C386.7,724.2 377.5,717.4 370,710 C362.5,702.6 355.8,694.2 350,685 C344.2,675.8 339.2,665.8 335,655 C330.8,644.2 326.7,625.8 325,620" fill="none" stroke="#3a3c3b" stroke-width="0.9" />
<circle cx="806.5" cy="302.3" r="6.8" fill="#1a2433"/>
<path d="M811.3,305.1 L806.5,307.9 L801.7,305.1 L801.7,299.5 L806.5,296.7 L811.3,299.5Z" fill="url(#boltG)" />
<circle cx="807.2" cy="302.3" r="2.8" fill="#4d73a3" stroke="#223a5c" stroke-width="0.7"/>
<path d="M803,306.5 a5.8,5.8 0 0 0 6,2.2" fill="none" stroke="#e8e8e0" stroke-width="1"/>
<circle cx="863.3" cy="349.2" r="6.8" fill="#1a2433"/>
<path d="M868.1,352 L863.3,354.8 L858.5,352 L858.5,346.4 L863.3,343.6 L868.1,346.4Z" fill="url(#boltG)" />
<circle cx="864" cy="349.2" r="2.8" fill="#4d73a3" stroke="#223a5c" stroke-width="0.7"/>
<path d="M859.8,353.4 a5.8,5.8 0 0 0 6,2.2" fill="none" stroke="#e8e8e0" stroke-width="1"/>
<circle cx="900" cy="422.7" r="6.8" fill="#1a2433"/>
<path d="M904.8,425.5 L900,428.3 L895.2,425.5 L895.2,419.9 L900,417.1 L904.8,419.9Z" fill="url(#boltG)" />
<circle cx="900.7" cy="422.7" r="2.8" fill="#4d73a3" stroke="#223a5c" stroke-width="0.7"/>
<path d="M896.5,426.9 a5.8,5.8 0 0 0 6,2.2" fill="none" stroke="#e8e8e0" stroke-width="1"/>
<circle cx="910" cy="511.5" r="6.8" fill="#1a2433"/>
<path d="M914.8,514.3 L910,517.1 L905.2,514.3 L905.2,508.7 L910,505.9 L914.8,508.7Z" fill="url(#boltG)" />
<circle cx="910.7" cy="511.5" r="2.8" fill="#4d73a3" stroke="#223a5c" stroke-width="0.7"/>
<path d="M906.5,515.7 a5.8,5.8 0 0 0 6,2.2" fill="none" stroke="#e8e8e0" stroke-width="1"/>
<circle cx="893" cy="602" r="6.8" fill="#1a2433"/>
<path d="M897.8,604.8 L893,607.6 L888.2,604.8 L888.2,599.2 L893,596.4 L897.8,599.2Z" fill="url(#boltG)" />
<circle cx="893.7" cy="602" r="2.8" fill="#4d73a3" stroke="#223a5c" stroke-width="0.7"/>
<path d="M889.5,606.2 a5.8,5.8 0 0 0 6,2.2" fill="none" stroke="#e8e8e0" stroke-width="1"/>
<circle cx="850.5" cy="680.5" r="6.8" fill="#1a2433"/>
<path d="M855.3,683.3 L850.5,686.1 L845.7,683.3 L845.7,677.7 L850.5,674.9 L855.3,677.7Z" fill="url(#boltG)" />
<circle cx="851.2" cy="680.5" r="2.8" fill="#4d73a3" stroke="#223a5c" stroke-width="0.7"/>
<path d="M847,684.7 a5.8,5.8 0 0 0 6,2.2" fill="none" stroke="#e8e8e0" stroke-width="1"/>
<circle cx="789" cy="735.5" r="6.8" fill="#1a2433"/>
<path d="M793.8,738.3 L789,741.1 L784.2,738.3 L784.2,732.7 L789,729.9 L793.8,732.7Z" fill="url(#boltG)" />
<circle cx="789.7" cy="735.5" r="2.8" fill="#4d73a3" stroke="#223a5c" stroke-width="0.7"/>
<path d="M785.5,739.7 a5.8,5.8 0 0 0 6,2.2" fill="none" stroke="#e8e8e0" stroke-width="1"/>
<circle cx="718.7" cy="757.6" r="6.8" fill="#1a2433"/>
<path d="M723.5,760.4 L718.7,763.2 L713.9,760.4 L713.9,754.8 L718.7,752 L723.5,754.8Z" fill="url(#boltG)" />
<circle cx="719.4" cy="757.6" r="2.8" fill="#4d73a3" stroke="#223a5c" stroke-width="0.7"/>
<path d="M715.2,761.8 a5.8,5.8 0 0 0 6,2.2" fill="none" stroke="#e8e8e0" stroke-width="1"/>
<circle cx="650" cy="744.6" r="6.8" fill="#1a2433"/>
<path d="M654.8,747.4 L650,750.2 L645.2,747.4 L645.2,741.8 L650,739 L654.8,741.8Z" fill="url(#boltG)" />
<circle cx="650.7" cy="744.6" r="2.8" fill="#4d73a3" stroke="#223a5c" stroke-width="0.7"/>
<path d="M646.5,748.8 a5.8,5.8 0 0 0 6,2.2" fill="none" stroke="#e8e8e0" stroke-width="1"/>
<circle cx="592.7" cy="697.7" r="6.8" fill="#1a2433"/>
<path d="M597.5,700.5 L592.7,703.3 L587.9,700.5 L587.9,694.9 L592.7,692.1 L597.5,694.9Z" fill="url(#boltG)" />
<circle cx="593.4" cy="697.7" r="2.8" fill="#4d73a3" stroke="#223a5c" stroke-width="0.7"/>
<path d="M589.2,701.9 a5.8,5.8 0 0 0 6,2.2" fill="none" stroke="#e8e8e0" stroke-width="1"/>
</g>
<!-- leader lines -->
<g id="leaders">
<line x1="334" y1="250" x2="422" y2="365" stroke="#fff" stroke-width="3.2" stroke-linecap="round"/>
<line x1="334" y1="250" x2="422" y2="365" stroke="#222" stroke-width="1.1" stroke-linecap="round"/>
<line x1="937" y1="251" x2="888" y2="318" stroke="#fff" stroke-width="3.2" stroke-linecap="round"/>
<line x1="937" y1="251" x2="888" y2="318" stroke="#222" stroke-width="1.1" stroke-linecap="round"/>
</g>

<!-- volvo logo -->
<g id="volvo">
<circle cx="1152.4" cy="825.6" r="51.5" fill="none" stroke="url(#ringG)" stroke-width="16"/>
<circle cx="1152.4" cy="825.6" r="44" fill="none" stroke="url(#ringIn)" stroke-width="2"/>
<path d="M1190,801 L1203,788" stroke="#8a8a8a" stroke-width="12"/>
<path d="M1185.6,765.4H1214.6V793.6Z" fill="#8d8d8d"/>
<rect x="1091" y="810.6" width="124.5" height="30.7" fill="#34429a"/>
<text x="1153" y="833.4" font-family="Liberation Serif" font-weight="bold" font-size="21.5" fill="#fff" text-anchor="middle" textLength="107.5" lengthAdjust="spacingAndGlyphs" style="font-family:'Liberation Serif',serif">VOLVO</text>
</g>
</svg>
</body></html>
